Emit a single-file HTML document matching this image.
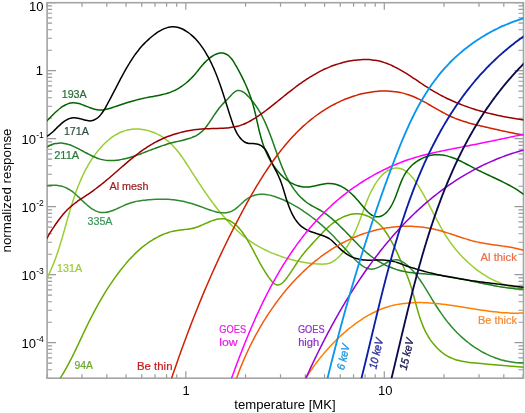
<!DOCTYPE html><html><head><meta charset="utf-8"><style>html,body{margin:0;padding:0;background:#fff;}svg{display:block;will-change:transform;}text{font-family:"Liberation Sans",sans-serif;}</style></head><body>
<svg width="525" height="413" viewBox="0 0 525 413">
<rect width="525" height="413" fill="#fff"/>
<path d="M47.05,378.20v-4.00 M47.05,2.70v4.00 M82.01,378.20v-4.00 M82.01,2.70v4.00 M106.81,378.20v-4.00 M106.81,2.70v4.00 M126.05,378.20v-4.00 M126.05,2.70v4.00 M141.76,378.20v-4.00 M141.76,2.70v4.00 M155.05,378.20v-4.00 M155.05,2.70v4.00 M166.56,378.20v-4.00 M166.56,2.70v4.00 M176.72,378.20v-4.00 M176.72,2.70v4.00 M185.80,378.20v-7.00 M185.80,2.70v7.00 M245.55,378.20v-4.00 M245.55,2.70v4.00 M280.51,378.20v-4.00 M280.51,2.70v4.00 M305.31,378.20v-4.00 M305.31,2.70v4.00 M324.55,378.20v-4.00 M324.55,2.70v4.00 M340.26,378.20v-4.00 M340.26,2.70v4.00 M353.55,378.20v-4.00 M353.55,2.70v4.00 M365.06,378.20v-4.00 M365.06,2.70v4.00 M375.22,378.20v-4.00 M375.22,2.70v4.00 M384.30,378.20v-7.00 M384.30,2.70v7.00 M444.05,378.20v-4.00 M444.05,2.70v4.00 M479.01,378.20v-4.00 M479.01,2.70v4.00 M503.81,378.20v-4.00 M503.81,2.70v4.00 M523.05,378.20v-4.00 M523.05,2.70v4.00 M47.10,378.26h5.00 M523.50,378.26h-5.00 M47.10,369.76h5.00 M523.50,369.76h-5.00 M47.10,363.17h5.00 M523.50,363.17h-5.00 M47.10,357.79h5.00 M523.50,357.79h-5.00 M47.10,353.23h5.00 M523.50,353.23h-5.00 M47.10,349.29h5.00 M523.50,349.29h-5.00 M47.10,345.81h5.00 M523.50,345.81h-5.00 M47.10,342.70h9.00 M523.50,342.70h-9.00 M47.10,322.23h5.00 M523.50,322.23h-5.00 M47.10,310.26h5.00 M523.50,310.26h-5.00 M47.10,301.76h5.00 M523.50,301.76h-5.00 M47.10,295.17h5.00 M523.50,295.17h-5.00 M47.10,289.79h5.00 M523.50,289.79h-5.00 M47.10,285.23h5.00 M523.50,285.23h-5.00 M47.10,281.29h5.00 M523.50,281.29h-5.00 M47.10,277.81h5.00 M523.50,277.81h-5.00 M47.10,274.70h9.00 M523.50,274.70h-9.00 M47.10,254.23h5.00 M523.50,254.23h-5.00 M47.10,242.26h5.00 M523.50,242.26h-5.00 M47.10,233.76h5.00 M523.50,233.76h-5.00 M47.10,227.17h5.00 M523.50,227.17h-5.00 M47.10,221.79h5.00 M523.50,221.79h-5.00 M47.10,217.23h5.00 M523.50,217.23h-5.00 M47.10,213.29h5.00 M523.50,213.29h-5.00 M47.10,209.81h5.00 M523.50,209.81h-5.00 M47.10,206.70h9.00 M523.50,206.70h-9.00 M47.10,186.23h5.00 M523.50,186.23h-5.00 M47.10,174.26h5.00 M523.50,174.26h-5.00 M47.10,165.76h5.00 M523.50,165.76h-5.00 M47.10,159.17h5.00 M523.50,159.17h-5.00 M47.10,153.79h5.00 M523.50,153.79h-5.00 M47.10,149.23h5.00 M523.50,149.23h-5.00 M47.10,145.29h5.00 M523.50,145.29h-5.00 M47.10,141.81h5.00 M523.50,141.81h-5.00 M47.10,138.70h9.00 M523.50,138.70h-9.00 M47.10,118.23h5.00 M523.50,118.23h-5.00 M47.10,106.26h5.00 M523.50,106.26h-5.00 M47.10,97.76h5.00 M523.50,97.76h-5.00 M47.10,91.17h5.00 M523.50,91.17h-5.00 M47.10,85.79h5.00 M523.50,85.79h-5.00 M47.10,81.23h5.00 M523.50,81.23h-5.00 M47.10,77.29h5.00 M523.50,77.29h-5.00 M47.10,73.81h5.00 M523.50,73.81h-5.00 M47.10,70.70h9.00 M523.50,70.70h-9.00 M47.10,50.23h5.00 M523.50,50.23h-5.00 M47.10,38.26h5.00 M523.50,38.26h-5.00 M47.10,29.76h5.00 M523.50,29.76h-5.00 M47.10,23.17h5.00 M523.50,23.17h-5.00 M47.10,17.79h5.00 M523.50,17.79h-5.00 M47.10,13.23h5.00 M523.50,13.23h-5.00 M47.10,9.29h5.00 M523.50,9.29h-5.00 M47.10,5.81h5.00 M523.50,5.81h-5.00 M47.10,2.70h9.00 M523.50,2.70h-9.00" stroke="#9a9a9a" stroke-width="1.2" fill="none"/>
<rect x="47.10" y="2.70" width="476.40" height="375.50" fill="none" stroke="#a4a4a4" stroke-width="1.6"/>
<defs><clipPath id="c"><rect x="47.10" y="2.70" width="476.40" height="375.50"/></clipPath></defs>
<g clip-path="url(#c)" fill="none" stroke-linejoin="round" stroke-linecap="round">
<path d="M46.80,278.59 C47.24,277.71 47.70,276.83 48.14,275.94 C48.57,275.05 49.00,274.16 49.42,273.26 C49.84,272.36 50.25,271.46 50.65,270.55 C51.05,269.65 51.45,268.74 51.83,267.82 C52.22,266.91 52.60,265.99 52.97,265.07 C53.34,264.15 53.71,263.22 54.07,262.30 C54.43,261.37 54.78,260.44 55.12,259.50 C55.47,258.57 55.81,257.63 56.14,256.69 C56.48,255.75 56.81,254.81 57.13,253.86 C57.45,252.91 57.77,251.97 58.09,251.02 C58.40,250.07 58.71,249.11 59.02,248.16 C59.32,247.20 59.63,246.24 59.92,245.29 C60.22,244.33 60.52,243.37 60.81,242.40 C61.10,241.44 61.39,240.48 61.68,239.51 C61.96,238.55 62.25,237.58 62.53,236.61 C62.81,235.64 63.09,234.67 63.37,233.70 C63.65,232.73 63.92,231.76 64.20,230.79 C64.48,229.82 64.75,228.85 65.02,227.88 C65.30,226.90 65.57,225.93 65.85,224.96 C66.12,223.99 66.39,223.01 66.67,222.04 C66.94,221.07 67.22,220.09 67.49,219.12 C67.77,218.15 68.05,217.18 68.33,216.21 C68.61,215.24 68.89,214.26 69.17,213.29 C69.45,212.33 69.73,211.36 70.02,210.39 C70.31,209.42 70.60,208.45 70.89,207.49 C71.18,206.52 71.48,205.56 71.78,204.60 C72.08,203.63 72.38,202.67 72.68,201.71 C72.99,200.75 73.30,199.80 73.62,198.84 C73.93,197.89 74.25,196.93 74.58,195.98 C74.90,195.03 75.23,194.08 75.57,193.14 C75.90,192.19 76.24,191.25 76.59,190.31 C76.94,189.37 77.29,188.43 77.65,187.50 C78.01,186.56 78.38,185.63 78.75,184.70 C79.13,183.77 79.51,182.85 79.89,181.93 C80.28,181.01 80.68,180.09 81.08,179.17 C81.49,178.26 81.90,177.35 82.32,176.44 C82.74,175.54 83.17,174.64 83.61,173.74 C84.05,172.84 84.49,171.95 84.95,171.06 C85.41,170.17 85.87,169.28 86.35,168.40 C86.83,167.52 87.31,166.65 87.81,165.78 C88.31,164.91 88.82,164.05 89.34,163.19 C89.86,162.33 90.39,161.47 90.93,160.62 C91.47,159.77 92.02,158.93 92.59,158.10 C93.15,157.26 93.73,156.42 94.32,155.60 C94.91,154.78 95.51,153.96 96.13,153.15 C96.74,152.34 97.37,151.54 98.01,150.76 C98.65,149.97 99.30,149.19 99.96,148.43 C100.62,147.66 101.30,146.91 101.99,146.17 C102.67,145.44 103.37,144.71 104.09,144.01 C104.80,143.31 105.52,142.62 106.26,141.94 C106.99,141.28 107.74,140.62 108.50,139.99 C109.26,139.36 110.03,138.75 110.81,138.16 C111.59,137.58 112.39,137.01 113.20,136.47 C114.00,135.93 114.82,135.41 115.65,134.91 C116.48,134.42 117.32,133.96 118.18,133.52 C119.03,133.08 119.90,132.67 120.77,132.29 C121.65,131.91 122.54,131.56 123.44,131.24 C124.34,130.93 125.25,130.64 126.18,130.39 C127.10,130.13 128.04,129.91 128.98,129.73 C129.93,129.55 130.89,129.40 131.86,129.29 C132.83,129.18 133.82,129.10 134.80,129.07 C135.80,129.03 136.81,129.04 137.81,129.08 C138.82,129.11 139.84,129.19 140.85,129.30 C141.87,129.41 142.89,129.56 143.90,129.74 C144.92,129.91 145.94,130.13 146.95,130.37 C147.96,130.61 148.96,130.89 149.96,131.19 C150.95,131.50 151.94,131.83 152.91,132.19 C153.88,132.56 154.84,132.95 155.78,133.37 C156.71,133.78 157.64,134.23 158.54,134.70 C159.44,135.17 160.32,135.66 161.18,136.18 C162.04,136.70 162.88,137.24 163.70,137.81 C164.52,138.37 165.32,138.96 166.10,139.56 C166.88,140.17 167.65,140.80 168.40,141.44 C169.14,142.09 169.87,142.75 170.59,143.43 C171.31,144.11 172.01,144.81 172.69,145.52 C173.38,146.24 174.05,146.97 174.72,147.71 C175.38,148.45 176.02,149.21 176.66,149.98 C177.30,150.75 177.93,151.53 178.54,152.32 C179.16,153.11 179.77,153.92 180.37,154.73 C180.97,155.54 181.56,156.36 182.14,157.19 C182.73,158.01 183.30,158.85 183.88,159.69 C184.45,160.53 185.01,161.38 185.58,162.23 C186.14,163.08 186.70,163.94 187.25,164.80 C187.81,165.66 188.36,166.52 188.92,167.38 C189.47,168.24 190.02,169.10 190.57,169.97 C191.12,170.83 191.67,171.69 192.22,172.55 C192.77,173.41 193.32,174.27 193.88,175.13 C194.43,175.99 194.98,176.85 195.54,177.70 C196.09,178.56 196.65,179.41 197.20,180.27 C197.76,181.12 198.31,181.97 198.87,182.82 C199.43,183.67 199.99,184.52 200.55,185.36 C201.11,186.20 201.68,187.05 202.24,187.89 C202.81,188.73 203.37,189.56 203.94,190.40 C204.51,191.23 205.08,192.07 205.65,192.89 C206.23,193.72 206.80,194.55 207.38,195.37 C207.95,196.19 208.53,197.01 209.12,197.83 C209.70,198.64 210.28,199.46 210.87,200.26 C211.46,201.07 212.05,201.88 212.64,202.68 C213.24,203.48 213.83,204.27 214.43,205.07 C215.03,205.86 215.63,206.65 216.24,207.43 C216.85,208.21 217.46,208.99 218.07,209.77 C218.69,210.54 219.30,211.31 219.92,212.07 C220.55,212.84 221.17,213.60 221.80,214.35 C222.43,215.10 223.06,215.85 223.70,216.59 C224.34,217.34 224.98,218.07 225.63,218.80 C226.28,219.53 226.93,220.26 227.58,220.98 C228.24,221.70 228.90,222.41 229.57,223.12 C230.23,223.82 230.90,224.53 231.58,225.22 C232.26,225.91 232.94,226.60 233.63,227.28 C234.32,227.96 235.01,228.63 235.71,229.30 C236.41,229.97 237.12,230.63 237.84,231.28 C238.55,231.93 239.28,232.57 240.01,233.21 C240.74,233.85 241.48,234.48 242.23,235.10 C242.98,235.72 243.73,236.33 244.50,236.94 C245.27,237.54 246.04,238.14 246.83,238.73 C247.62,239.32 248.41,239.90 249.22,240.47 C250.03,241.04 250.84,241.60 251.67,242.15 C252.50,242.71 253.34,243.25 254.19,243.79 C255.05,244.33 255.91,244.85 256.78,245.37 C257.66,245.89 258.55,246.39 259.44,246.89 C260.34,247.39 261.25,247.88 262.17,248.36 C263.09,248.84 264.01,249.31 264.95,249.77 C265.88,250.23 266.83,250.67 267.78,251.11 C268.73,251.55 269.69,251.98 270.65,252.40 C271.62,252.82 272.59,253.23 273.57,253.63 C274.54,254.03 275.53,254.42 276.51,254.79 C277.50,255.17 278.49,255.54 279.48,255.89 C280.48,256.25 281.48,256.60 282.48,256.93 C283.48,257.27 284.48,257.59 285.48,257.90 C286.49,258.22 287.49,258.52 288.50,258.81 C289.51,259.10 290.51,259.38 291.52,259.65 C292.52,259.91 293.53,260.17 294.53,260.42 C295.54,260.66 296.54,260.89 297.54,261.12 C298.54,261.34 299.53,261.55 300.53,261.75 C301.52,261.94 302.51,262.13 303.50,262.30 C304.48,262.48 305.46,262.64 306.44,262.79 C307.41,262.94 308.38,263.08 309.35,263.20 C310.31,263.33 311.27,263.44 312.22,263.54 C313.17,263.64 314.11,263.73 315.04,263.80 C315.97,263.88 316.90,263.94 317.82,263.99 C318.73,264.04 319.63,264.08 320.53,264.10 C321.42,264.12 322.31,264.14 323.19,264.12 C324.05,264.11 324.92,264.09 325.77,264.00 C326.62,263.91 327.46,263.79 328.29,263.58 C329.12,263.37 329.94,263.08 330.73,262.74 C331.54,262.39 332.34,261.95 333.11,261.48 C333.89,261.00 334.66,260.45 335.40,259.88 C336.16,259.30 336.90,258.66 337.62,258.00 C338.35,257.34 339.06,256.64 339.76,255.91 C340.46,255.18 341.14,254.42 341.81,253.64 C342.49,252.86 343.14,252.05 343.78,251.22 C344.43,250.38 345.06,249.53 345.67,248.66 C346.28,247.79 346.88,246.90 347.47,246.00 C348.05,245.09 348.62,244.17 349.17,243.25 C349.72,242.32 350.26,241.38 350.78,240.44 C351.31,239.50 351.81,238.55 352.30,237.60 C352.79,236.66 353.26,235.71 353.72,234.75 C354.18,233.81 354.62,232.86 355.06,231.91 C355.48,230.96 355.90,230.01 356.31,229.06 C356.71,228.12 357.10,227.17 357.49,226.22 C357.87,225.28 358.25,224.33 358.62,223.39 C358.98,222.45 359.34,221.50 359.70,220.56 C360.05,219.62 360.40,218.68 360.74,217.74 C361.08,216.81 361.42,215.87 361.76,214.94 C362.10,214.00 362.43,213.07 362.77,212.14 C363.11,211.21 363.44,210.29 363.78,209.36 C364.11,208.44 364.45,207.51 364.79,206.59 C365.14,205.68 365.48,204.76 365.83,203.84 C366.18,202.93 366.54,202.02 366.90,201.11 C367.26,200.21 367.63,199.30 368.01,198.40 C368.39,197.50 368.78,196.61 369.18,195.71 C369.58,194.82 369.99,193.93 370.41,193.05 C370.84,192.16 371.27,191.28 371.72,190.41 C372.17,189.53 372.64,188.66 373.12,187.79 C373.60,186.92 374.10,186.06 374.61,185.20 C375.13,184.35 375.66,183.49 376.22,182.65 C376.77,181.80 377.35,180.95 377.94,180.13 C378.54,179.30 379.16,178.48 379.81,177.70 C380.45,176.91 381.12,176.14 381.82,175.41 C382.52,174.68 383.25,173.98 384.01,173.33 C384.77,172.68 385.55,172.07 386.38,171.52 C387.20,170.97 388.06,170.46 388.95,170.03 C389.83,169.60 390.77,169.22 391.70,168.93 C392.63,168.64 393.59,168.41 394.53,168.27 C395.45,168.14 396.38,168.09 397.29,168.12 C398.18,168.16 399.06,168.28 399.92,168.48 C400.78,168.67 401.62,168.95 402.43,169.29 C403.25,169.63 404.05,170.05 404.82,170.52 C405.61,170.99 406.37,171.53 407.10,172.10 C407.85,172.69 408.58,173.33 409.28,174.01 C410.00,174.69 410.69,175.42 411.36,176.17 C412.04,176.94 412.70,177.74 413.34,178.56 C414.00,179.39 414.63,180.25 415.24,181.12 C415.87,182.00 416.47,182.90 417.07,183.81 C417.66,184.72 418.24,185.64 418.81,186.57 C419.39,187.49 419.94,188.43 420.50,189.36 C421.05,190.28 421.59,191.21 422.12,192.14 C422.65,193.06 423.17,193.98 423.69,194.90 C424.20,195.82 424.70,196.74 425.21,197.65 C425.70,198.56 426.20,199.47 426.68,200.38 C427.17,201.29 427.65,202.20 428.13,203.10 C428.60,204.00 429.07,204.90 429.54,205.80 C430.01,206.70 430.47,207.59 430.93,208.49 C431.39,209.38 431.85,210.26 432.31,211.15 C432.76,212.04 433.22,212.92 433.67,213.80 C434.12,214.68 434.58,215.55 435.03,216.43 C435.48,217.30 435.94,218.17 436.39,219.04 C436.85,219.91 437.31,220.77 437.77,221.63 C438.23,222.49 438.69,223.35 439.15,224.20 C439.62,225.06 440.09,225.91 440.56,226.76 C441.04,227.60 441.51,228.45 442.00,229.29 C442.48,230.13 442.97,230.97 443.47,231.80 C443.97,232.63 444.47,233.46 444.98,234.29 C445.49,235.12 446.01,235.94 446.54,236.76 C447.06,237.58 447.60,238.39 448.15,239.20 C448.69,240.02 449.25,240.82 449.81,241.63 C450.38,242.43 450.96,243.23 451.55,244.03 C452.14,244.83 452.73,245.62 453.34,246.40 C453.95,247.19 454.57,247.97 455.20,248.75 C455.83,249.52 456.47,250.29 457.12,251.06 C457.77,251.82 458.42,252.58 459.09,253.33 C459.76,254.08 460.44,254.83 461.13,255.57 C461.82,256.30 462.51,257.03 463.22,257.76 C463.92,258.48 464.64,259.20 465.36,259.90 C466.09,260.61 466.82,261.31 467.56,262.00 C468.31,262.69 469.06,263.37 469.81,264.04 C470.57,264.71 471.34,265.37 472.12,266.02 C472.89,266.67 473.68,267.31 474.47,267.95 C475.26,268.58 476.06,269.20 476.87,269.81 C477.68,270.42 478.50,271.01 479.32,271.60 C480.14,272.19 480.97,272.76 481.81,273.32 C482.65,273.89 483.50,274.44 484.35,274.98 C485.20,275.51 486.07,276.04 486.93,276.55 C487.80,277.06 488.67,277.56 489.56,278.04 C490.44,278.53 491.32,279.00 492.22,279.45 C493.11,279.91 494.01,280.35 494.92,280.78 C495.83,281.20 496.74,281.61 497.66,282.01 C498.58,282.40 499.51,282.78 500.44,283.15 C501.37,283.51 502.31,283.86 503.25,284.19 C504.19,284.52 505.14,284.84 506.10,285.13 C507.05,285.43 508.01,285.71 508.97,285.97 C509.94,286.23 510.91,286.48 511.88,286.70 C512.86,286.93 513.84,287.14 514.82,287.32 C515.81,287.51 516.80,287.68 517.79,287.83 C518.78,287.98 519.78,288.11 520.78,288.22 C521.79,288.33 522.80,288.40 523.80,288.49" stroke="#9acd32" stroke-width="1.5"/>
<path d="M60.21,378.21 C60.75,377.35 61.29,376.49 61.82,375.63 C62.35,374.77 62.87,373.90 63.39,373.04 C63.90,372.17 64.41,371.30 64.91,370.43 C65.41,369.56 65.90,368.68 66.39,367.81 C66.88,366.93 67.36,366.05 67.84,365.17 C68.32,364.29 68.79,363.41 69.25,362.53 C69.72,361.65 70.18,360.76 70.64,359.88 C71.09,358.99 71.54,358.10 71.99,357.22 C72.44,356.33 72.88,355.44 73.33,354.55 C73.77,353.66 74.21,352.76 74.64,351.87 C75.08,350.98 75.51,350.08 75.94,349.19 C76.37,348.30 76.80,347.40 77.22,346.50 C77.65,345.61 78.07,344.71 78.50,343.81 C78.92,342.92 79.34,342.02 79.77,341.12 C80.19,340.22 80.61,339.32 81.03,338.43 C81.45,337.53 81.88,336.63 82.30,335.73 C82.72,334.83 83.14,333.93 83.57,333.03 C83.99,332.14 84.42,331.24 84.85,330.34 C85.27,329.44 85.70,328.55 86.13,327.65 C86.57,326.75 87.00,325.85 87.44,324.96 C87.87,324.06 88.31,323.17 88.75,322.27 C89.20,321.38 89.64,320.49 90.09,319.59 C90.54,318.70 90.99,317.81 91.45,316.92 C91.91,316.03 92.36,315.14 92.83,314.25 C93.29,313.36 93.76,312.48 94.23,311.59 C94.70,310.71 95.17,309.82 95.65,308.94 C96.12,308.06 96.60,307.18 97.09,306.30 C97.57,305.42 98.06,304.55 98.55,303.67 C99.05,302.80 99.54,301.92 100.04,301.05 C100.54,300.18 101.05,299.31 101.56,298.45 C102.06,297.58 102.58,296.72 103.09,295.86 C103.61,294.99 104.13,294.14 104.66,293.28 C105.18,292.42 105.71,291.57 106.25,290.72 C106.78,289.87 107.32,289.02 107.87,288.17 C108.41,287.33 108.96,286.49 109.51,285.65 C110.06,284.81 110.62,283.97 111.18,283.14 C111.75,282.31 112.31,281.48 112.89,280.65 C113.46,279.82 114.04,279.00 114.62,278.18 C115.20,277.36 115.79,276.55 116.38,275.73 C116.98,274.92 117.57,274.11 118.18,273.31 C118.78,272.51 119.39,271.71 120.00,270.91 C120.62,270.11 121.24,269.32 121.86,268.53 C122.49,267.75 123.12,266.96 123.75,266.18 C124.39,265.41 125.03,264.63 125.68,263.87 C126.33,263.10 126.99,262.34 127.65,261.58 C128.31,260.83 128.98,260.08 129.66,259.34 C130.33,258.60 131.01,257.87 131.70,257.14 C132.39,256.41 133.09,255.70 133.80,254.99 C134.50,254.28 135.21,253.58 135.93,252.89 C136.65,252.20 137.38,251.52 138.12,250.85 C138.86,250.18 139.60,249.51 140.36,248.86 C141.11,248.21 141.87,247.58 142.65,246.95 C143.42,246.32 144.20,245.70 144.99,245.10 C145.78,244.50 146.58,243.91 147.39,243.33 C148.20,242.75 149.02,242.18 149.84,241.63 C150.67,241.08 151.51,240.54 152.36,240.02 C153.21,239.49 154.07,238.99 154.94,238.49 C155.81,238.00 156.69,237.52 157.58,237.06 C158.48,236.60 159.38,236.15 160.29,235.72 C161.19,235.30 162.11,234.89 163.04,234.50 C163.96,234.11 164.90,233.75 165.84,233.40 C166.78,233.06 167.73,232.74 168.68,232.44 C169.63,232.14 170.59,231.86 171.55,231.62 C172.52,231.37 173.49,231.15 174.46,230.95 C175.43,230.76 176.40,230.59 177.38,230.44 C178.36,230.29 179.34,230.17 180.32,230.05 C181.30,229.93 182.29,229.83 183.27,229.72 C184.26,229.60 185.24,229.50 186.23,229.37 C187.21,229.24 188.20,229.12 189.18,228.96 C190.16,228.80 191.15,228.62 192.12,228.41 C193.10,228.19 194.08,227.95 195.05,227.67 C196.03,227.38 197.00,227.05 197.96,226.69 C198.93,226.34 199.89,225.95 200.85,225.55 C201.82,225.15 202.78,224.72 203.74,224.30 C204.70,223.88 205.65,223.44 206.61,223.02 C207.57,222.60 208.52,222.18 209.48,221.78 C210.43,221.39 211.39,221.01 212.35,220.66 C213.30,220.32 214.26,220.00 215.23,219.73 C216.18,219.47 217.14,219.23 218.10,219.06 C219.05,218.90 220.01,218.77 220.96,218.74 C221.90,218.71 222.84,218.74 223.76,218.86 C224.69,218.98 225.60,219.20 226.49,219.47 C227.38,219.75 228.26,220.10 229.11,220.50 C229.96,220.89 230.79,221.35 231.59,221.84 C232.40,222.33 233.19,222.87 233.95,223.45 C234.72,224.03 235.46,224.65 236.18,225.30 C236.91,225.96 237.61,226.65 238.30,227.37 C238.99,228.09 239.66,228.85 240.31,229.62 C240.96,230.40 241.60,231.20 242.21,232.02 C242.84,232.85 243.44,233.69 244.03,234.55 C244.62,235.41 245.19,236.28 245.75,237.17 C246.32,238.05 246.87,238.95 247.40,239.85 C247.94,240.75 248.46,241.66 248.98,242.57 C249.49,243.48 250.00,244.39 250.49,245.30 C250.98,246.20 251.47,247.10 251.95,248.00 C252.42,248.89 252.89,249.77 253.36,250.66 C253.82,251.53 254.27,252.41 254.73,253.28 C255.18,254.14 255.64,255.00 256.09,255.87 C256.54,256.73 256.99,257.58 257.45,258.44 C257.90,259.29 258.36,260.15 258.82,261.00 C259.28,261.85 259.75,262.71 260.22,263.56 C260.70,264.42 261.18,265.27 261.67,266.13 C262.17,266.99 262.67,267.86 263.19,268.72 C263.70,269.59 264.23,270.46 264.78,271.33 C265.32,272.22 265.89,273.10 266.46,273.99 C267.04,274.89 267.64,275.79 268.25,276.68 C268.87,277.57 269.50,278.47 270.16,279.31 C270.80,280.14 271.46,280.95 272.15,281.68 C272.82,282.36 273.50,283.03 274.23,283.55 C274.91,284.04 275.63,284.49 276.37,284.73 C277.07,284.96 277.83,285.08 278.55,285.00 C279.28,284.91 280.03,284.59 280.73,284.21 C281.49,283.80 282.20,283.18 282.90,282.55 C283.63,281.88 284.33,281.08 285.01,280.28 C285.71,279.46 286.38,278.56 287.04,277.68 C287.69,276.79 288.33,275.88 288.96,274.99 C289.58,274.10 290.18,273.21 290.77,272.31 C291.36,271.43 291.94,270.55 292.51,269.67 C293.08,268.80 293.64,267.93 294.20,267.06 C294.76,266.20 295.31,265.34 295.86,264.49 C296.41,263.64 296.96,262.80 297.52,261.97 C298.08,261.14 298.63,260.31 299.20,259.50 C299.77,258.69 300.35,257.89 300.93,257.10 C301.52,256.31 302.12,255.53 302.72,254.76 C303.33,253.98 303.94,253.22 304.56,252.47 C305.18,251.71 305.81,250.96 306.45,250.22 C307.08,249.47 307.73,248.74 308.37,248.00 C309.02,247.27 309.68,246.54 310.33,245.81 C310.99,245.08 311.65,244.35 312.32,243.63 C312.98,242.90 313.65,242.17 314.32,241.45 C314.99,240.72 315.66,239.99 316.34,239.26 C317.01,238.53 317.69,237.79 318.36,237.06 C319.04,236.33 319.73,235.59 320.41,234.87 C321.10,234.14 321.79,233.41 322.49,232.69 C323.19,231.97 323.90,231.25 324.61,230.54 C325.33,229.84 326.05,229.14 326.78,228.45 C327.52,227.76 328.26,227.08 329.02,226.42 C329.77,225.76 330.54,225.11 331.32,224.47 C332.11,223.84 332.90,223.22 333.71,222.62 C334.52,222.02 335.35,221.44 336.19,220.88 C337.04,220.32 337.90,219.78 338.78,219.27 C339.66,218.76 340.56,218.27 341.48,217.81 C342.39,217.35 343.32,216.92 344.26,216.52 C345.20,216.12 346.16,215.76 347.12,215.44 C348.08,215.12 349.06,214.83 350.04,214.59 C351.01,214.35 351.99,214.16 352.98,214.01 C353.96,213.87 354.95,213.77 355.94,213.73 C356.92,213.69 357.90,213.71 358.88,213.78 C359.86,213.86 360.83,213.99 361.80,214.18 C362.76,214.37 363.72,214.62 364.66,214.92 C365.61,215.21 366.54,215.56 367.46,215.95 C368.37,216.34 369.28,216.78 370.16,217.25 C371.04,217.73 371.91,218.24 372.75,218.79 C373.59,219.34 374.41,219.92 375.21,220.53 C376.00,221.14 376.78,221.79 377.52,222.45 C378.27,223.12 378.99,223.81 379.69,224.52 C380.39,225.24 381.07,225.97 381.73,226.73 C382.39,227.48 383.02,228.26 383.64,229.05 C384.26,229.84 384.86,230.65 385.44,231.47 C386.03,232.30 386.59,233.13 387.14,233.98 C387.69,234.82 388.23,235.68 388.75,236.54 C389.27,237.40 389.78,238.28 390.27,239.15 C390.77,240.02 391.25,240.91 391.72,241.79 C392.20,242.67 392.66,243.55 393.11,244.43 C393.57,245.32 394.01,246.20 394.45,247.09 C394.89,247.97 395.32,248.86 395.75,249.75 C396.17,250.64 396.59,251.54 397.01,252.43 C397.42,253.32 397.83,254.22 398.24,255.12 C398.65,256.01 399.06,256.91 399.47,257.82 C399.87,258.72 400.28,259.62 400.68,260.53 C401.09,261.43 401.50,262.34 401.90,263.25 C402.30,264.16 402.71,265.08 403.11,265.99 C403.51,266.91 403.91,267.83 404.30,268.75 C404.69,269.67 405.08,270.59 405.47,271.52 C405.85,272.45 406.23,273.38 406.61,274.31 C406.98,275.24 407.35,276.18 407.71,277.11 C408.07,278.05 408.42,278.99 408.77,279.94 C409.11,280.88 409.45,281.83 409.78,282.78 C410.10,283.73 410.42,284.69 410.73,285.65 C411.03,286.60 411.33,287.57 411.62,288.53 C411.91,289.49 412.20,290.46 412.48,291.42 C412.75,292.39 413.03,293.36 413.29,294.33 C413.56,295.30 413.83,296.27 414.09,297.24 C414.35,298.21 414.61,299.18 414.87,300.15 C415.13,301.12 415.39,302.10 415.65,303.07 C415.91,304.04 416.17,305.01 416.43,305.97 C416.70,306.94 416.96,307.91 417.23,308.87 C417.50,309.84 417.78,310.80 418.06,311.76 C418.34,312.72 418.62,313.68 418.92,314.63 C419.21,315.58 419.51,316.53 419.83,317.48 C420.14,318.42 420.46,319.37 420.79,320.30 C421.12,321.24 421.46,322.18 421.82,323.10 C422.17,324.03 422.54,324.95 422.92,325.87 C423.30,326.79 423.69,327.70 424.11,328.60 C424.52,329.50 424.94,330.40 425.39,331.29 C425.83,332.18 426.29,333.07 426.78,333.94 C427.26,334.82 427.76,335.69 428.28,336.54 C428.80,337.40 429.34,338.26 429.91,339.09 C430.47,339.94 431.06,340.77 431.66,341.58 C432.27,342.40 432.89,343.21 433.54,344.00 C434.18,344.79 434.85,345.56 435.53,346.32 C436.21,347.07 436.91,347.81 437.63,348.52 C438.35,349.23 439.09,349.93 439.84,350.60 C440.59,351.26 441.36,351.91 442.15,352.52 C442.93,353.13 443.74,353.72 444.55,354.28 C445.37,354.84 446.20,355.37 447.04,355.86 C447.88,356.35 448.74,356.81 449.61,357.24 C450.48,357.66 451.37,358.05 452.26,358.42 C453.16,358.78 454.06,359.11 454.98,359.42 C455.90,359.72 456.83,360.00 457.76,360.26 C458.70,360.51 459.65,360.74 460.61,360.95 C461.56,361.17 462.53,361.36 463.50,361.53 C464.48,361.71 465.46,361.87 466.44,362.01 C467.43,362.16 468.43,362.29 469.43,362.41 C470.43,362.54 471.44,362.65 472.45,362.76 C473.46,362.86 474.48,362.96 475.50,363.06 C476.53,363.15 477.55,363.25 478.58,363.34 C479.61,363.43 480.64,363.53 481.67,363.62 C482.71,363.72 483.75,363.81 484.78,363.91 C485.82,364.00 486.86,364.10 487.90,364.19 C488.94,364.29 489.98,364.39 491.02,364.48 C492.05,364.58 493.09,364.67 494.13,364.77 C495.17,364.86 496.20,364.96 497.23,365.05 C498.26,365.14 499.29,365.24 500.32,365.33 C501.35,365.42 502.37,365.51 503.39,365.60 C504.41,365.69 505.42,365.78 506.43,365.87 C507.44,365.95 508.44,366.04 509.44,366.12 C510.43,366.20 511.42,366.29 512.41,366.36 C513.39,366.44 514.36,366.52 515.33,366.60 C516.29,366.67 517.25,366.74 518.21,366.81 C519.15,366.88 520.09,366.95 521.03,367.02 C521.95,367.08 522.87,367.14 523.78,367.20" stroke="#66aa00" stroke-width="1.5"/>
<path d="M46.80,185.70 C47.93,185.57 49.08,185.39 50.19,185.30 C51.27,185.21 52.33,185.16 53.38,185.15 C54.40,185.15 55.40,185.19 56.39,185.27 C57.35,185.35 58.30,185.48 59.23,185.64 C60.15,185.81 61.05,186.02 61.93,186.27 C62.81,186.51 63.67,186.81 64.52,187.14 C65.36,187.47 66.19,187.84 67.00,188.25 C67.82,188.66 68.63,189.11 69.42,189.59 C70.22,190.08 71.00,190.61 71.77,191.17 C72.56,191.73 73.33,192.34 74.09,192.97 C74.87,193.61 75.64,194.29 76.40,194.97 C77.18,195.67 77.94,196.39 78.70,197.12 C79.48,197.85 80.24,198.60 81.01,199.35 C81.79,200.09 82.56,200.85 83.34,201.59 C84.12,202.33 84.90,203.07 85.69,203.79 C86.48,204.50 87.27,205.20 88.08,205.87 C88.88,206.54 89.69,207.19 90.52,207.79 C91.34,208.38 92.17,208.96 93.02,209.47 C93.85,209.98 94.71,210.45 95.58,210.85 C96.44,211.25 97.31,211.60 98.20,211.87 C99.07,212.14 99.97,212.35 100.86,212.47 C101.75,212.59 102.66,212.63 103.55,212.60 C104.46,212.58 105.37,212.47 106.28,212.33 C107.20,212.18 108.12,211.96 109.03,211.71 C109.96,211.45 110.88,211.14 111.81,210.81 C112.75,210.48 113.68,210.10 114.61,209.71 C115.55,209.32 116.50,208.89 117.44,208.47 C118.39,208.04 119.33,207.59 120.29,207.15 C121.24,206.71 122.20,206.26 123.16,205.83 C124.12,205.40 125.08,204.96 126.05,204.56 C127.01,204.17 127.98,203.78 128.95,203.43 C129.92,203.09 130.90,202.77 131.88,202.49 C132.85,202.20 133.83,201.96 134.82,201.73 C135.80,201.50 136.78,201.31 137.77,201.12 C138.75,200.94 139.74,200.79 140.73,200.64 C141.72,200.50 142.72,200.38 143.71,200.26 C144.71,200.14 145.70,200.03 146.70,199.93 C147.70,199.84 148.69,199.75 149.69,199.67 C150.69,199.58 151.69,199.51 152.69,199.45 C153.70,199.39 154.70,199.34 155.70,199.30 C156.70,199.26 157.71,199.23 158.71,199.21 C159.72,199.20 160.72,199.19 161.73,199.19 C162.73,199.20 163.74,199.22 164.74,199.25 C165.75,199.28 166.75,199.32 167.76,199.37 C168.76,199.43 169.77,199.50 170.77,199.58 C171.78,199.66 172.78,199.76 173.78,199.87 C174.79,199.98 175.79,200.10 176.79,200.24 C177.79,200.38 178.79,200.53 179.79,200.70 C180.79,200.87 181.79,201.06 182.78,201.26 C183.78,201.46 184.78,201.68 185.77,201.91 C186.76,202.15 187.76,202.40 188.75,202.66 C189.74,202.93 190.73,203.22 191.71,203.52 C192.70,203.82 193.68,204.14 194.66,204.47 C195.64,204.80 196.62,205.15 197.60,205.50 C198.58,205.84 199.55,206.20 200.52,206.56 C201.49,206.92 202.46,207.28 203.43,207.64 C204.39,207.99 205.35,208.35 206.32,208.70 C207.27,209.04 208.23,209.38 209.18,209.71 C210.13,210.03 211.08,210.35 212.03,210.64 C212.97,210.94 213.91,211.22 214.85,211.48 C215.79,211.73 216.72,211.97 217.66,212.16 C218.58,212.36 219.51,212.53 220.44,212.65 C221.35,212.77 222.28,212.85 223.19,212.87 C224.11,212.89 225.03,212.87 225.94,212.77 C226.85,212.67 227.76,212.51 228.66,212.28 C229.57,212.04 230.48,211.72 231.37,211.33 C232.28,210.93 233.18,210.44 234.06,209.88 C234.98,209.29 235.87,208.59 236.74,207.88 C237.65,207.15 238.53,206.33 239.42,205.53 C240.31,204.72 241.19,203.86 242.08,203.05 C242.96,202.24 243.83,201.43 244.73,200.69 C245.60,199.97 246.48,199.28 247.38,198.67 C248.25,198.07 249.13,197.54 250.03,197.06 C250.89,196.59 251.78,196.18 252.67,195.83 C253.54,195.49 254.42,195.20 255.31,194.96 C256.18,194.73 257.06,194.54 257.95,194.41 C258.83,194.28 259.71,194.20 260.59,194.16 C261.47,194.12 262.36,194.13 263.24,194.17 C264.12,194.21 265.01,194.30 265.89,194.42 C266.78,194.53 267.66,194.69 268.55,194.87 C269.44,195.05 270.32,195.27 271.21,195.50 C272.11,195.74 273.00,196.00 273.89,196.28 C274.78,196.56 275.68,196.86 276.57,197.18 C277.47,197.50 278.37,197.83 279.27,198.18 C280.17,198.53 281.07,198.90 281.97,199.28 C282.88,199.67 283.78,200.07 284.68,200.48 C285.58,200.89 286.49,201.32 287.38,201.76 C288.29,202.21 289.19,202.66 290.08,203.13 C290.99,203.60 291.88,204.09 292.78,204.58 C293.67,205.08 294.57,205.58 295.46,206.10 C296.35,206.62 297.24,207.15 298.12,207.69 C299.01,208.24 299.89,208.79 300.77,209.35 C301.65,209.91 302.52,210.48 303.39,211.07 C304.26,211.65 305.13,212.24 305.99,212.84 C306.85,213.43 307.70,214.04 308.55,214.66 C309.40,215.27 310.25,215.89 311.09,216.52 C311.93,217.15 312.76,217.79 313.58,218.43 C314.41,219.07 315.23,219.71 316.04,220.37 C316.85,221.02 317.65,221.68 318.45,222.34 C319.25,223.00 320.03,223.67 320.81,224.34 C321.59,225.00 322.36,225.68 323.13,226.35 C323.89,227.03 324.64,227.70 325.38,228.39 C326.12,229.06 326.86,229.75 327.58,230.43 C328.30,231.11 329.01,231.79 329.71,232.48 C330.41,233.16 331.10,233.84 331.78,234.53 C332.46,235.21 333.13,235.90 333.80,236.59 C334.46,237.27 335.12,237.96 335.77,238.65 C336.42,239.34 337.07,240.03 337.71,240.73 C338.36,241.42 339.00,242.12 339.64,242.82 C340.29,243.53 340.93,244.23 341.57,244.94 C342.22,245.65 342.87,246.37 343.52,247.09 C344.17,247.81 344.83,248.54 345.49,249.27 C346.15,250.00 346.82,250.74 347.50,251.48 C348.19,252.23 348.87,252.99 349.57,253.74 C350.28,254.51 350.99,255.28 351.71,256.05 C352.44,256.83 353.18,257.62 353.93,258.39 C354.69,259.17 355.45,259.96 356.24,260.71 C357.01,261.46 357.80,262.20 358.62,262.91 C359.42,263.60 360.23,264.28 361.07,264.90 C361.89,265.51 362.73,266.10 363.59,266.61 C364.43,267.11 365.29,267.57 366.17,267.94 C367.03,268.30 367.92,268.61 368.81,268.81 C369.70,269.01 370.61,269.13 371.51,269.14 C372.42,269.14 373.35,269.03 374.26,268.84 C375.20,268.63 376.13,268.29 377.05,267.92 C378.00,267.53 378.94,267.05 379.87,266.56 C380.83,266.06 381.77,265.50 382.72,264.96 C383.67,264.41 384.61,263.83 385.57,263.29 C386.51,262.77 387.45,262.23 388.41,261.77 C389.34,261.32 390.28,260.88 391.24,260.57 C392.16,260.26 393.09,260.00 394.03,259.88 C394.94,259.77 395.87,259.76 396.78,259.86 C397.69,259.96 398.59,260.18 399.47,260.46 C400.37,260.75 401.24,261.15 402.10,261.59 C402.97,262.04 403.81,262.58 404.64,263.15 C405.48,263.74 406.29,264.38 407.09,265.05 C407.89,265.73 408.67,266.46 409.43,267.19 C410.19,267.93 410.93,268.70 411.65,269.48 C412.37,270.24 413.06,271.03 413.74,271.82 C414.42,272.60 415.07,273.39 415.72,274.19 C416.35,274.99 416.97,275.79 417.58,276.60 C418.18,277.40 418.77,278.21 419.35,279.03 C419.93,279.84 420.49,280.65 421.04,281.48 C421.60,282.30 422.14,283.12 422.67,283.95 C423.21,284.77 423.73,285.60 424.25,286.43 C424.77,287.26 425.28,288.10 425.79,288.93 C426.30,289.77 426.80,290.60 427.31,291.44 C427.82,292.28 428.32,293.12 428.82,293.96 C429.33,294.79 429.83,295.63 430.34,296.47 C430.85,297.31 431.36,298.15 431.87,298.99 C432.39,299.83 432.91,300.67 433.43,301.51 C433.95,302.34 434.47,303.18 435.00,304.01 C435.53,304.85 436.07,305.68 436.60,306.51 C437.14,307.34 437.69,308.17 438.23,309.00 C438.78,309.82 439.34,310.65 439.90,311.47 C440.46,312.29 441.02,313.10 441.59,313.91 C442.17,314.73 442.74,315.54 443.33,316.34 C443.91,317.15 444.51,317.95 445.10,318.74 C445.70,319.54 446.31,320.33 446.93,321.11 C447.54,321.90 448.16,322.68 448.79,323.45 C449.43,324.23 450.06,325.00 450.71,325.76 C451.36,326.52 452.02,327.28 452.69,328.03 C453.35,328.77 454.03,329.52 454.72,330.25 C455.40,330.98 456.10,331.71 456.81,332.43 C457.51,333.15 458.23,333.86 458.96,334.56 C459.68,335.26 460.42,335.95 461.17,336.64 C461.91,337.32 462.67,338.00 463.43,338.66 C464.19,339.33 464.97,339.98 465.75,340.63 C466.53,341.27 467.32,341.91 468.12,342.53 C468.92,343.16 469.73,343.77 470.54,344.38 C471.36,344.98 472.18,345.57 473.01,346.15 C473.84,346.73 474.68,347.30 475.53,347.85 C476.38,348.41 477.23,348.95 478.09,349.48 C478.95,350.01 479.82,350.53 480.70,351.03 C481.58,351.54 482.46,352.03 483.35,352.51 C484.24,352.98 485.13,353.44 486.04,353.89 C486.94,354.34 487.85,354.78 488.76,355.19 C489.68,355.61 490.60,356.02 491.53,356.41 C492.45,356.79 493.39,357.17 494.32,357.52 C495.26,357.88 496.21,358.22 497.15,358.55 C498.10,358.87 499.06,359.18 500.01,359.47 C500.97,359.76 501.94,360.03 502.91,360.29 C503.87,360.54 504.85,360.78 505.82,361.00 C506.80,361.22 507.78,361.42 508.77,361.60 C509.75,361.79 510.74,361.95 511.73,362.10 C512.73,362.24 513.72,362.37 514.72,362.47 C515.72,362.58 516.73,362.66 517.73,362.73 C518.74,362.79 519.75,362.84 520.76,362.86 C521.77,362.89 522.79,362.87 523.80,362.87" stroke="#2e8b2e" stroke-width="1.5"/>
<path d="M46.79,147.20 C47.79,146.64 48.78,146.00 49.78,145.51 C50.76,145.04 51.74,144.63 52.73,144.29 C53.69,143.97 54.66,143.71 55.63,143.52 C56.58,143.33 57.54,143.20 58.49,143.14 C59.43,143.07 60.38,143.07 61.31,143.12 C62.25,143.16 63.18,143.27 64.11,143.42 C65.04,143.57 65.96,143.77 66.88,144.00 C67.80,144.24 68.71,144.52 69.62,144.83 C70.53,145.14 71.44,145.49 72.34,145.86 C73.25,146.23 74.15,146.64 75.05,147.06 C75.95,147.48 76.85,147.92 77.74,148.38 C78.64,148.84 79.54,149.31 80.43,149.79 C81.33,150.27 82.22,150.76 83.11,151.25 C84.01,151.74 84.90,152.24 85.80,152.72 C86.69,153.21 87.58,153.70 88.48,154.17 C89.38,154.64 90.27,155.10 91.17,155.54 C92.07,155.98 92.97,156.41 93.88,156.81 C94.78,157.21 95.68,157.59 96.60,157.94 C97.50,158.28 98.41,158.60 99.33,158.88 C100.25,159.16 101.17,159.40 102.09,159.61 C103.01,159.81 103.94,159.98 104.88,160.12 C105.81,160.25 106.74,160.35 107.68,160.42 C108.62,160.49 109.56,160.53 110.50,160.54 C111.45,160.55 112.39,160.53 113.34,160.48 C114.29,160.44 115.25,160.36 116.20,160.26 C117.16,160.16 118.12,160.04 119.07,159.89 C120.04,159.74 121.00,159.57 121.96,159.38 C122.93,159.19 123.90,158.98 124.87,158.75 C125.84,158.53 126.81,158.28 127.78,158.02 C128.76,157.75 129.73,157.47 130.71,157.18 C131.68,156.89 132.66,156.58 133.64,156.26 C134.62,155.94 135.60,155.61 136.58,155.27 C137.57,154.93 138.55,154.58 139.54,154.23 C140.52,153.87 141.51,153.50 142.49,153.14 C143.48,152.77 144.47,152.39 145.46,152.02 C146.44,151.64 147.43,151.26 148.42,150.88 C149.41,150.50 150.40,150.12 151.39,149.74 C152.38,149.36 153.37,148.98 154.36,148.61 C155.35,148.24 156.34,147.86 157.33,147.50 C158.32,147.14 159.31,146.78 160.30,146.43 C161.28,146.08 162.27,145.74 163.26,145.41 C164.25,145.08 165.24,144.75 166.22,144.44 C167.21,144.14 168.19,143.84 169.18,143.56 C170.16,143.28 171.15,143.02 172.13,142.76 C173.11,142.51 174.09,142.28 175.07,142.04 C176.04,141.81 177.01,141.59 177.98,141.37 C178.94,141.15 179.90,140.94 180.85,140.72 C181.80,140.49 182.75,140.28 183.68,140.04 C184.61,139.81 185.53,139.57 186.45,139.32 C187.35,139.06 188.25,138.80 189.14,138.51 C190.02,138.23 190.89,137.93 191.74,137.60 C192.59,137.27 193.43,136.92 194.26,136.53 C195.08,136.15 195.88,135.74 196.67,135.29 C197.46,134.84 198.23,134.36 198.98,133.84 C199.74,133.31 200.48,132.75 201.19,132.14 C201.92,131.53 202.62,130.87 203.29,130.17 C203.99,129.47 204.65,128.71 205.30,127.94 C205.96,127.15 206.59,126.33 207.22,125.49 C207.85,124.64 208.47,123.77 209.08,122.89 C209.70,122.00 210.30,121.09 210.90,120.18 C211.50,119.27 212.10,118.34 212.70,117.42 C213.30,116.51 213.89,115.58 214.50,114.68 C215.10,113.77 215.70,112.87 216.32,111.99 C216.92,111.12 217.54,110.26 218.17,109.43 C218.80,108.61 219.43,107.81 220.09,107.03 C220.73,106.26 221.39,105.52 222.07,104.79 C222.73,104.05 223.42,103.34 224.11,102.63 C224.80,101.91 225.50,101.21 226.20,100.49 C226.92,99.76 227.64,99.04 228.36,98.29 C229.09,97.54 229.83,96.76 230.57,95.98 C231.32,95.18 232.05,94.30 232.82,93.55 C233.57,92.83 234.31,92.06 235.13,91.56 C235.87,91.10 236.67,90.75 237.47,90.60 C238.24,90.45 239.05,90.49 239.82,90.63 C240.62,90.77 241.41,91.10 242.17,91.47 C242.97,91.86 243.74,92.39 244.48,92.95 C245.26,93.53 246.00,94.20 246.73,94.88 C247.48,95.58 248.19,96.33 248.90,97.09 C249.60,97.84 250.28,98.62 250.95,99.40 C251.61,100.18 252.25,100.97 252.88,101.77 C253.51,102.57 254.12,103.37 254.71,104.19 C255.31,105.00 255.88,105.83 256.44,106.66 C257.00,107.49 257.55,108.33 258.08,109.18 C258.61,110.03 259.13,110.88 259.63,111.74 C260.13,112.60 260.62,113.47 261.10,114.35 C261.57,115.22 262.04,116.10 262.49,116.99 C262.95,117.87 263.39,118.77 263.82,119.66 C264.25,120.56 264.67,121.46 265.09,122.37 C265.50,123.28 265.90,124.19 266.30,125.10 C266.69,126.02 267.08,126.94 267.46,127.86 C267.85,128.79 268.22,129.72 268.59,130.65 C268.96,131.58 269.32,132.51 269.68,133.45 C270.04,134.38 270.39,135.32 270.74,136.27 C271.09,137.21 271.44,138.15 271.78,139.10 C272.13,140.04 272.47,140.99 272.81,141.94 C273.15,142.89 273.49,143.84 273.83,144.79 C274.17,145.74 274.51,146.69 274.84,147.64 C275.18,148.59 275.52,149.54 275.86,150.49 C276.20,151.44 276.54,152.39 276.88,153.34 C277.22,154.29 277.57,155.24 277.91,156.19 C278.26,157.14 278.61,158.08 278.96,159.03 C279.32,159.97 279.67,160.91 280.04,161.85 C280.40,162.79 280.77,163.73 281.14,164.66 C281.51,165.60 281.89,166.53 282.27,167.46 C282.66,168.39 283.05,169.31 283.45,170.23 C283.85,171.15 284.25,172.07 284.67,172.99 C285.09,173.90 285.52,174.81 285.96,175.71 C286.40,176.61 286.85,177.51 287.32,178.40 C287.78,179.30 288.26,180.19 288.76,181.07 C289.25,181.95 289.76,182.83 290.29,183.69 C290.82,184.56 291.37,185.43 291.94,186.28 C292.50,187.14 293.09,187.99 293.69,188.82 C294.29,189.66 294.90,190.48 295.54,191.29 C296.17,192.10 296.82,192.90 297.49,193.68 C298.15,194.46 298.83,195.22 299.53,195.96 C300.22,196.70 300.93,197.43 301.66,198.13 C302.38,198.82 303.12,199.50 303.87,200.15 C304.61,200.80 305.37,201.43 306.15,202.02 C306.92,202.61 307.70,203.18 308.50,203.72 C309.29,204.25 310.10,204.75 310.91,205.23 C311.72,205.71 312.55,206.16 313.37,206.61 C314.20,207.05 315.03,207.48 315.86,207.92 C316.69,208.37 317.53,208.80 318.36,209.26 C319.19,209.72 320.02,210.18 320.85,210.68 C321.68,211.17 322.50,211.69 323.32,212.23 C324.14,212.77 324.95,213.34 325.76,213.91 C326.58,214.50 327.38,215.10 328.18,215.71 C328.99,216.33 329.78,216.97 330.58,217.61 C331.37,218.26 332.16,218.92 332.94,219.60 C333.72,220.27 334.50,220.96 335.27,221.65 C336.04,222.35 336.81,223.05 337.57,223.76 C338.33,224.48 339.08,225.20 339.83,225.92 C340.58,226.64 341.32,227.38 342.05,228.11 C342.79,228.84 343.52,229.57 344.24,230.31 C344.96,231.04 345.68,231.78 346.39,232.51 C347.09,233.24 347.80,233.98 348.50,234.71 C349.20,235.44 349.89,236.17 350.59,236.89 C351.28,237.62 351.97,238.34 352.66,239.07 C353.35,239.78 354.04,240.50 354.73,241.21 C355.41,241.92 356.10,242.63 356.80,243.34 C357.49,244.04 358.18,244.74 358.88,245.43 C359.57,246.12 360.27,246.80 360.98,247.48 C361.68,248.16 362.39,248.83 363.11,249.49 C363.83,250.15 364.55,250.81 365.28,251.46 C366.01,252.10 366.75,252.74 367.50,253.37 C368.25,253.99 369.00,254.61 369.77,255.22 C370.54,255.83 371.32,256.42 372.11,257.01 C372.91,257.59 373.71,258.17 374.53,258.73 C375.35,259.29 376.18,259.84 377.02,260.38 C377.87,260.91 378.72,261.44 379.59,261.94 C380.45,262.45 381.33,262.95 382.22,263.43 C383.10,263.91 384.00,264.37 384.90,264.82 C385.81,265.27 386.72,265.70 387.65,266.12 C388.57,266.54 389.50,266.94 390.44,267.32 C391.37,267.70 392.32,268.07 393.27,268.41 C394.21,268.76 395.17,269.09 396.13,269.39 C397.09,269.70 398.06,269.99 399.03,270.26 C400.00,270.53 400.97,270.78 401.95,271.01 C402.92,271.24 403.90,271.44 404.89,271.63 C405.87,271.82 406.85,272.00 407.84,272.15 C408.83,272.31 409.82,272.45 410.81,272.58 C411.80,272.71 412.80,272.83 413.79,272.94 C414.79,273.05 415.79,273.14 416.78,273.23 C417.78,273.33 418.78,273.41 419.78,273.49 C420.78,273.57 421.78,273.64 422.78,273.71 C423.78,273.78 424.79,273.85 425.79,273.92 C426.79,274.00 427.79,274.07 428.79,274.14 C429.79,274.22 430.79,274.29 431.79,274.38 C432.79,274.46 433.79,274.55 434.79,274.64 C435.79,274.74 436.78,274.85 437.78,274.96 C438.78,275.08 439.77,275.20 440.76,275.33 C441.76,275.46 442.75,275.59 443.74,275.74 C444.73,275.88 445.72,276.03 446.71,276.19 C447.70,276.34 448.69,276.50 449.68,276.67 C450.67,276.84 451.65,277.01 452.64,277.19 C453.63,277.37 454.61,277.55 455.60,277.74 C456.58,277.92 457.57,278.11 458.55,278.31 C459.54,278.50 460.52,278.70 461.50,278.90 C462.49,279.10 463.47,279.30 464.45,279.51 C465.43,279.71 466.42,279.92 467.40,280.13 C468.38,280.34 469.36,280.55 470.35,280.76 C471.33,280.97 472.31,281.18 473.29,281.40 C474.27,281.61 475.25,281.82 476.24,282.03 C477.22,282.24 478.20,282.46 479.18,282.67 C480.16,282.88 481.15,283.09 482.13,283.29 C483.11,283.50 484.09,283.71 485.08,283.91 C486.06,284.11 487.04,284.32 488.03,284.51 C489.01,284.71 489.99,284.91 490.98,285.10 C491.96,285.29 492.95,285.48 493.94,285.66 C494.92,285.84 495.91,286.02 496.90,286.20 C497.88,286.37 498.87,286.54 499.86,286.70 C500.85,286.86 501.84,287.02 502.83,287.17 C503.82,287.32 504.81,287.47 505.80,287.61 C506.80,287.74 507.79,287.88 508.78,288.00 C509.78,288.12 510.78,288.24 511.77,288.35 C512.77,288.45 513.77,288.55 514.77,288.64 C515.77,288.73 516.77,288.82 517.77,288.89 C518.77,288.96 519.78,289.02 520.78,289.07 C521.79,289.13 522.79,289.16 523.80,289.20" stroke="#1e7b1e" stroke-width="1.5"/>
<path d="M46.79,121.01 C47.48,120.31 48.15,119.63 48.84,118.92 C49.55,118.20 50.26,117.47 50.98,116.74 C51.70,116.00 52.44,115.25 53.19,114.52 C53.94,113.78 54.70,113.04 55.47,112.32 C56.24,111.60 57.02,110.89 57.82,110.21 C58.62,109.53 59.42,108.87 60.24,108.25 C61.05,107.63 61.88,107.03 62.72,106.49 C63.55,105.95 64.40,105.45 65.26,105.00 C66.11,104.57 66.97,104.17 67.85,103.85 C68.72,103.53 69.60,103.26 70.50,103.08 C71.38,102.90 72.28,102.79 73.18,102.77 C74.09,102.75 75.00,102.82 75.91,102.94 C76.84,103.07 77.76,103.28 78.68,103.52 C79.62,103.77 80.55,104.08 81.48,104.40 C82.43,104.73 83.37,105.10 84.31,105.47 C85.26,105.84 86.21,106.25 87.16,106.63 C88.12,107.01 89.08,107.40 90.04,107.76 C91.00,108.11 91.96,108.46 92.94,108.76 C93.90,109.05 94.87,109.33 95.84,109.53 C96.81,109.72 97.79,109.87 98.76,109.95 C99.73,110.02 100.71,110.02 101.68,109.97 C102.66,109.91 103.64,109.79 104.61,109.64 C105.59,109.48 106.57,109.26 107.54,109.03 C108.53,108.79 109.50,108.50 110.48,108.21 C111.46,107.91 112.44,107.58 113.42,107.25 C114.40,106.92 115.37,106.56 116.35,106.22 C117.33,105.88 118.31,105.53 119.29,105.19 C120.27,104.85 121.25,104.52 122.23,104.19 C123.20,103.87 124.18,103.55 125.16,103.25 C126.13,102.94 127.11,102.63 128.09,102.34 C129.06,102.05 130.04,101.76 131.01,101.48 C131.99,101.20 132.96,100.93 133.93,100.66 C134.90,100.40 135.87,100.14 136.84,99.89 C137.81,99.64 138.78,99.40 139.75,99.17 C140.71,98.94 141.68,98.71 142.65,98.49 C143.61,98.28 144.57,98.07 145.53,97.86 C146.49,97.66 147.45,97.47 148.41,97.28 C149.36,97.10 150.32,96.92 151.27,96.75 C152.22,96.57 153.17,96.41 154.12,96.24 C155.07,96.07 156.01,95.90 156.96,95.72 C157.90,95.54 158.84,95.36 159.78,95.17 C160.72,94.98 161.65,94.78 162.58,94.56 C163.52,94.34 164.45,94.11 165.37,93.86 C166.30,93.61 167.22,93.34 168.14,93.04 C169.07,92.75 169.98,92.43 170.89,92.08 C171.81,91.73 172.72,91.35 173.62,90.94 C174.54,90.53 175.44,90.08 176.33,89.60 C177.23,89.12 178.13,88.61 179.01,88.07 C179.89,87.53 180.77,86.96 181.63,86.36 C182.50,85.77 183.35,85.15 184.19,84.51 C185.03,83.86 185.86,83.20 186.67,82.52 C187.48,81.84 188.27,81.13 189.04,80.42 C189.81,79.71 190.57,78.98 191.30,78.24 C192.03,77.50 192.74,76.75 193.43,75.99 C194.11,75.23 194.77,74.47 195.43,73.70 C196.07,72.93 196.70,72.16 197.33,71.39 C197.96,70.62 198.57,69.84 199.19,69.08 C199.81,68.31 200.42,67.55 201.05,66.79 C201.68,66.04 202.30,65.29 202.95,64.55 C203.60,63.81 204.26,63.09 204.94,62.38 C205.63,61.67 206.33,60.97 207.06,60.29 C207.80,59.62 208.56,58.95 209.35,58.32 C210.15,57.69 210.99,57.07 211.85,56.50 C212.70,55.94 213.59,55.40 214.49,54.94 C215.38,54.48 216.30,54.07 217.22,53.76 C218.12,53.46 219.05,53.21 219.96,53.10 C220.85,52.99 221.76,52.97 222.64,53.07 C223.50,53.18 224.37,53.42 225.18,53.73 C226.01,54.04 226.80,54.48 227.55,54.97 C228.30,55.46 229.00,56.06 229.66,56.69 C230.34,57.34 230.96,58.06 231.55,58.80 C232.16,59.56 232.72,60.38 233.27,61.20 C233.83,62.04 234.35,62.92 234.87,63.79 C235.40,64.67 235.90,65.57 236.41,66.47 C236.91,67.36 237.41,68.26 237.91,69.17 C238.41,70.07 238.90,70.98 239.38,71.89 C239.87,72.80 240.35,73.72 240.82,74.63 C241.29,75.55 241.76,76.47 242.22,77.39 C242.68,78.31 243.13,79.24 243.58,80.17 C244.02,81.09 244.46,82.02 244.89,82.96 C245.31,83.89 245.74,84.82 246.15,85.76 C246.56,86.70 246.96,87.64 247.36,88.58 C247.75,89.52 248.13,90.46 248.51,91.41 C248.88,92.35 249.25,93.29 249.60,94.24 C249.95,95.19 250.30,96.14 250.63,97.09 C250.96,98.04 251.28,98.99 251.59,99.94 C251.90,100.89 252.20,101.84 252.48,102.80 C252.77,103.75 253.04,104.71 253.31,105.66 C253.57,106.62 253.83,107.57 254.07,108.53 C254.32,109.49 254.56,110.44 254.80,111.40 C255.03,112.36 255.26,113.31 255.48,114.27 C255.71,115.23 255.92,116.19 256.14,117.15 C256.36,118.10 256.57,119.06 256.78,120.02 C257.00,120.98 257.21,121.94 257.42,122.90 C257.64,123.85 257.85,124.81 258.07,125.77 C258.29,126.73 258.50,127.68 258.73,128.64 C258.95,129.60 259.18,130.55 259.42,131.51 C259.65,132.46 259.89,133.42 260.14,134.37 C260.39,135.33 260.64,136.28 260.91,137.23 C261.18,138.19 261.45,139.14 261.74,140.09 C262.03,141.04 262.32,141.99 262.63,142.94 C262.95,143.89 263.27,144.84 263.61,145.78 C263.95,146.73 264.30,147.68 264.67,148.62 C265.04,149.56 265.43,150.51 265.83,151.44 C266.24,152.39 266.66,153.33 267.10,154.26 C267.54,155.20 268.00,156.13 268.48,157.06 C268.96,157.99 269.46,158.91 269.97,159.82 C270.49,160.74 271.02,161.65 271.57,162.54 C272.12,163.43 272.69,164.32 273.27,165.19 C273.85,166.06 274.45,166.92 275.07,167.77 C275.69,168.61 276.32,169.43 276.97,170.24 C277.61,171.05 278.28,171.84 278.96,172.61 C279.64,173.38 280.33,174.13 281.04,174.86 C281.75,175.58 282.47,176.28 283.21,176.96 C283.94,177.63 284.70,178.28 285.46,178.91 C286.22,179.52 287.00,180.12 287.80,180.68 C288.59,181.24 289.39,181.77 290.21,182.27 C291.03,182.76 291.86,183.23 292.70,183.66 C293.54,184.08 294.39,184.48 295.26,184.83 C296.12,185.18 297.00,185.50 297.89,185.77 C298.78,186.04 299.68,186.27 300.59,186.46 C301.50,186.64 302.42,186.79 303.35,186.89 C304.28,186.98 305.22,187.03 306.17,187.03 C307.12,187.04 308.08,186.98 309.04,186.89 C310.02,186.80 310.99,186.65 311.97,186.48 C312.96,186.31 313.94,186.10 314.93,185.89 C315.93,185.68 316.92,185.43 317.92,185.21 C318.92,184.98 319.92,184.74 320.92,184.53 C321.92,184.32 322.92,184.11 323.93,183.95 C324.92,183.78 325.92,183.64 326.92,183.55 C327.90,183.46 328.90,183.41 329.88,183.43 C330.86,183.45 331.84,183.53 332.81,183.67 C333.77,183.81 334.74,184.02 335.68,184.28 C336.63,184.53 337.58,184.85 338.50,185.21 C339.43,185.56 340.34,185.98 341.24,186.42 C342.14,186.87 343.02,187.37 343.89,187.90 C344.76,188.43 345.61,189.00 346.44,189.59 C347.27,190.19 348.08,190.81 348.87,191.46 C349.67,192.12 350.44,192.80 351.20,193.49 C351.97,194.19 352.71,194.92 353.44,195.65 C354.18,196.39 354.90,197.15 355.61,197.92 C356.33,198.70 357.03,199.49 357.73,200.28 C358.43,201.08 359.12,201.89 359.81,202.70 C360.50,203.51 361.19,204.34 361.88,205.15 C362.57,205.96 363.25,206.78 363.95,207.58 C364.64,208.38 365.33,209.18 366.04,209.95 C366.74,210.71 367.45,211.47 368.18,212.17 C368.89,212.85 369.62,213.52 370.38,214.11 C371.11,214.67 371.86,215.21 372.65,215.63 C373.42,216.03 374.21,216.38 375.03,216.59 C375.83,216.79 376.68,216.89 377.52,216.87 C378.37,216.84 379.25,216.67 380.09,216.43 C380.95,216.17 381.81,215.80 382.62,215.36 C383.45,214.91 384.26,214.37 385.02,213.77 C385.78,213.17 386.49,212.48 387.16,211.76 C387.84,211.03 388.45,210.24 389.04,209.43 C389.63,208.62 390.18,207.75 390.70,206.89 C391.22,206.02 391.71,205.12 392.18,204.23 C392.65,203.33 393.09,202.42 393.51,201.50 C393.94,200.58 394.34,199.66 394.73,198.73 C395.12,197.80 395.49,196.86 395.86,195.92 C396.22,194.98 396.58,194.03 396.93,193.09 C397.28,192.14 397.62,191.20 397.96,190.25 C398.31,189.31 398.64,188.37 398.99,187.43 C399.34,186.49 399.68,185.55 400.04,184.63 C400.40,183.70 400.77,182.78 401.15,181.86 C401.53,180.95 401.92,180.04 402.33,179.15 C402.74,178.26 403.16,177.38 403.62,176.51 C404.07,175.64 404.54,174.78 405.04,173.94 C405.54,173.11 406.06,172.28 406.62,171.48 C407.18,170.67 407.77,169.89 408.39,169.12 C409.01,168.36 409.68,167.61 410.36,166.89 C411.06,166.17 411.78,165.48 412.53,164.81 C413.28,164.13 414.06,163.49 414.86,162.87 C415.67,162.25 416.49,161.66 417.34,161.10 C418.19,160.55 419.06,160.02 419.95,159.52 C420.83,159.03 421.74,158.56 422.65,158.14 C423.57,157.71 424.50,157.32 425.44,156.96 C426.38,156.61 427.33,156.29 428.29,156.02 C429.24,155.75 430.21,155.51 431.18,155.32 C432.14,155.13 433.11,154.97 434.08,154.87 C435.05,154.77 436.02,154.71 436.98,154.69 C437.95,154.68 438.91,154.71 439.87,154.77 C440.83,154.84 441.79,154.95 442.75,155.10 C443.70,155.24 444.66,155.43 445.61,155.64 C446.56,155.85 447.52,156.10 448.46,156.37 C449.41,156.64 450.36,156.95 451.30,157.27 C452.25,157.60 453.19,157.95 454.13,158.32 C455.07,158.69 456.01,159.08 456.94,159.49 C457.88,159.90 458.81,160.33 459.74,160.76 C460.68,161.20 461.61,161.66 462.53,162.12 C463.46,162.58 464.39,163.05 465.31,163.52 C466.24,164.00 467.16,164.48 468.08,164.96 C469.00,165.44 469.92,165.93 470.84,166.41 C471.76,166.89 472.67,167.37 473.59,167.85 C474.50,168.32 475.41,168.78 476.32,169.24 C477.23,169.70 478.14,170.15 479.04,170.60 C479.95,171.04 480.85,171.48 481.76,171.92 C482.66,172.35 483.56,172.78 484.46,173.21 C485.36,173.63 486.25,174.05 487.15,174.47 C488.05,174.89 488.94,175.31 489.83,175.73 C490.72,176.15 491.61,176.56 492.50,176.98 C493.39,177.40 494.28,177.81 495.16,178.23 C496.05,178.65 496.93,179.07 497.81,179.49 C498.70,179.91 499.58,180.34 500.46,180.77 C501.33,181.20 502.21,181.63 503.09,182.07 C503.96,182.51 504.84,182.96 505.71,183.41 C506.58,183.86 507.45,184.32 508.32,184.78 C509.19,185.25 510.06,185.72 510.92,186.21 C511.79,186.69 512.65,187.18 513.51,187.68 C514.38,188.19 515.24,188.70 516.10,189.23 C516.96,189.75 517.82,190.29 518.67,190.84 C519.53,191.39 520.39,191.95 521.24,192.53 C522.09,193.11 522.94,193.71 523.79,194.31" stroke="#006400" stroke-width="1.5"/>
<path d="M46.80,136.30 C47.59,135.80 48.39,135.35 49.15,134.81 C49.94,134.25 50.70,133.63 51.45,132.99 C52.22,132.34 52.97,131.64 53.72,130.94 C54.48,130.23 55.22,129.49 55.97,128.76 C56.73,128.02 57.47,127.27 58.23,126.53 C58.99,125.80 59.75,125.07 60.53,124.37 C61.30,123.68 62.08,122.99 62.89,122.36 C63.68,121.74 64.48,121.14 65.32,120.61 C66.14,120.08 66.98,119.59 67.85,119.20 C68.71,118.81 69.60,118.46 70.51,118.23 C71.42,118.00 72.36,117.86 73.31,117.81 C74.28,117.76 75.27,117.84 76.26,117.96 C77.27,118.07 78.29,118.29 79.31,118.52 C80.34,118.75 81.37,119.06 82.39,119.34 C83.42,119.62 84.44,119.97 85.46,120.22 C86.46,120.46 87.47,120.73 88.46,120.82 C89.42,120.91 90.40,120.91 91.33,120.77 C92.24,120.63 93.15,120.34 94.00,120.00 C94.86,119.65 95.67,119.19 96.44,118.69 C97.22,118.18 97.94,117.58 98.63,116.95 C99.33,116.31 99.99,115.60 100.61,114.87 C101.25,114.12 101.84,113.32 102.42,112.51 C103.00,111.68 103.55,110.82 104.08,109.95 C104.62,109.07 105.14,108.16 105.65,107.26 C106.16,106.35 106.65,105.42 107.15,104.51 C107.64,103.59 108.13,102.68 108.62,101.76 C109.10,100.85 109.59,99.95 110.06,99.04 C110.54,98.13 111.02,97.23 111.49,96.33 C111.96,95.43 112.43,94.53 112.90,93.63 C113.37,92.73 113.83,91.84 114.30,90.95 C114.76,90.06 115.22,89.17 115.69,88.28 C116.15,87.39 116.61,86.50 117.07,85.62 C117.53,84.74 117.99,83.85 118.45,82.97 C118.91,82.09 119.37,81.21 119.83,80.34 C120.29,79.46 120.75,78.58 121.22,77.71 C121.68,76.84 122.15,75.96 122.62,75.10 C123.09,74.23 123.56,73.36 124.03,72.49 C124.51,71.63 124.98,70.77 125.47,69.91 C125.95,69.05 126.44,68.20 126.93,67.35 C127.43,66.50 127.93,65.65 128.43,64.81 C128.94,63.96 129.45,63.12 129.98,62.29 C130.50,61.45 131.03,60.62 131.56,59.80 C132.10,58.97 132.65,58.15 133.20,57.34 C133.76,56.53 134.32,55.72 134.90,54.91 C135.48,54.11 136.06,53.31 136.66,52.52 C137.26,51.73 137.87,50.95 138.49,50.17 C139.12,49.39 139.75,48.62 140.40,47.86 C141.05,47.10 141.71,46.34 142.39,45.59 C143.07,44.84 143.76,44.10 144.47,43.37 C145.18,42.64 145.90,41.92 146.64,41.20 C147.38,40.48 148.14,39.78 148.91,39.08 C149.69,38.38 150.48,37.69 151.29,37.02 C152.10,36.34 152.93,35.67 153.78,35.02 C154.62,34.37 155.48,33.74 156.35,33.13 C157.22,32.53 158.11,31.95 159.01,31.40 C159.90,30.86 160.81,30.34 161.73,29.88 C162.64,29.41 163.56,28.98 164.49,28.60 C165.41,28.23 166.35,27.90 167.29,27.63 C168.22,27.37 169.16,27.15 170.10,27.01 C171.03,26.86 171.97,26.78 172.91,26.78 C173.84,26.77 174.78,26.84 175.70,26.97 C176.63,27.11 177.56,27.31 178.47,27.57 C179.38,27.82 180.29,28.15 181.18,28.51 C182.08,28.88 182.96,29.30 183.83,29.76 C184.70,30.22 185.56,30.73 186.40,31.26 C187.24,31.80 188.07,32.38 188.88,32.98 C189.68,33.58 190.47,34.22 191.24,34.87 C192.01,35.52 192.76,36.20 193.49,36.89 C194.22,37.58 194.93,38.30 195.63,39.03 C196.32,39.77 197.00,40.52 197.65,41.29 C198.31,42.06 198.96,42.85 199.58,43.64 C200.21,44.44 200.82,45.26 201.41,46.08 C202.01,46.91 202.59,47.75 203.15,48.59 C203.72,49.44 204.27,50.30 204.81,51.17 C205.35,52.03 205.87,52.91 206.38,53.79 C206.90,54.67 207.39,55.55 207.88,56.44 C208.37,57.33 208.85,58.23 209.31,59.12 C209.78,60.02 210.23,60.92 210.68,61.82 C211.12,62.72 211.56,63.62 211.98,64.52 C212.41,65.42 212.82,66.33 213.23,67.24 C213.64,68.14 214.03,69.05 214.43,69.96 C214.82,70.87 215.20,71.78 215.57,72.70 C215.95,73.61 216.32,74.53 216.68,75.45 C217.04,76.36 217.40,77.28 217.74,78.20 C218.09,79.13 218.44,80.05 218.77,80.97 C219.11,81.90 219.45,82.83 219.77,83.76 C220.10,84.69 220.43,85.62 220.75,86.55 C221.07,87.48 221.38,88.42 221.70,89.35 C222.01,90.29 222.32,91.23 222.63,92.17 C222.94,93.11 223.24,94.06 223.54,95.00 C223.85,95.94 224.15,96.89 224.45,97.84 C224.75,98.79 225.05,99.74 225.35,100.69 C225.65,101.64 225.95,102.60 226.25,103.55 C226.55,104.51 226.85,105.47 227.16,106.43 C227.46,107.39 227.76,108.35 228.07,109.32 C228.37,110.28 228.68,111.25 228.99,112.22 C229.30,113.19 229.61,114.16 229.92,115.13 C230.24,116.10 230.55,117.08 230.88,118.05 C231.20,119.03 231.52,120.01 231.85,120.99 C232.19,121.97 232.52,122.95 232.87,123.92 C233.22,124.89 233.58,125.86 233.96,126.82 C234.34,127.77 234.73,128.71 235.15,129.64 C235.57,130.55 236.00,131.46 236.47,132.34 C236.94,133.22 237.42,134.08 237.95,134.90 C238.48,135.72 239.03,136.52 239.63,137.27 C240.23,138.03 240.86,138.75 241.53,139.43 C242.21,140.10 242.92,140.75 243.69,141.30 C244.46,141.85 245.27,142.36 246.14,142.71 C247.01,143.06 247.95,143.26 248.90,143.40 C249.87,143.55 250.89,143.49 251.90,143.54 C252.92,143.59 253.97,143.56 254.98,143.69 C255.99,143.82 257.00,144.01 257.96,144.31 C258.89,144.60 259.81,144.99 260.65,145.45 C261.47,145.91 262.24,146.46 262.94,147.07 C263.65,147.68 264.28,148.37 264.87,149.09 C265.47,149.82 266.00,150.62 266.50,151.44 C267.02,152.27 267.48,153.15 267.93,154.04 C268.39,154.94 268.81,155.88 269.23,156.82 C269.66,157.76 270.06,158.73 270.48,159.69 C270.90,160.65 271.32,161.63 271.76,162.59 C272.21,163.55 272.67,164.50 273.14,165.44 C273.61,166.38 274.09,167.32 274.57,168.25 C275.05,169.17 275.54,170.09 276.01,171.01 C276.48,171.92 276.95,172.83 277.40,173.74 C277.84,174.65 278.27,175.55 278.67,176.45 C279.08,177.35 279.46,178.25 279.83,179.15 C280.20,180.05 280.55,180.94 280.89,181.84 C281.23,182.74 281.55,183.64 281.86,184.54 C282.17,185.44 282.47,186.35 282.76,187.25 C283.06,188.16 283.34,189.07 283.62,189.99 C283.90,190.91 284.17,191.83 284.45,192.75 C284.73,193.69 285.00,194.62 285.29,195.56 C285.57,196.51 285.86,197.46 286.16,198.42 C286.46,199.39 286.77,200.36 287.10,201.34 C287.43,202.32 287.77,203.31 288.12,204.30 C288.48,205.29 288.85,206.28 289.24,207.27 C289.63,208.25 290.03,209.24 290.45,210.21 C290.87,211.18 291.31,212.15 291.77,213.10 C292.23,214.04 292.71,214.97 293.21,215.88 C293.71,216.79 294.23,217.68 294.77,218.54 C295.31,219.39 295.87,220.23 296.46,221.03 C297.05,221.83 297.65,222.60 298.29,223.32 C298.93,224.04 299.58,224.74 300.27,225.38 C300.95,226.02 301.67,226.62 302.41,227.18 C303.14,227.73 303.91,228.25 304.70,228.73 C305.50,229.22 306.33,229.66 307.17,230.08 C308.03,230.51 308.92,230.89 309.82,231.26 C310.74,231.63 311.69,231.97 312.64,232.30 C313.61,232.64 314.60,232.95 315.59,233.27 C316.58,233.59 317.59,233.89 318.59,234.21 C319.59,234.53 320.59,234.85 321.58,235.20 C322.55,235.54 323.53,235.89 324.48,236.28 C325.42,236.67 326.35,237.07 327.23,237.53 C328.11,237.98 328.97,238.46 329.77,239.00 C330.57,239.53 331.31,240.12 332.04,240.74 C332.76,241.35 333.43,242.03 334.11,242.70 C334.80,243.39 335.45,244.11 336.13,244.81 C336.83,245.53 337.52,246.26 338.24,246.97 C338.98,247.69 339.73,248.41 340.49,249.11 C341.27,249.81 342.06,250.51 342.87,251.17 C343.68,251.84 344.51,252.50 345.36,253.12 C346.20,253.73 347.06,254.33 347.95,254.88 C348.82,255.42 349.72,255.94 350.63,256.40 C351.53,256.86 352.45,257.28 353.39,257.64 C354.32,258.00 355.26,258.31 356.21,258.58 C357.16,258.85 358.13,259.07 359.09,259.26 C360.06,259.45 361.04,259.60 362.02,259.72 C363.00,259.84 363.98,259.93 364.97,259.99 C365.96,260.06 366.95,260.10 367.94,260.13 C368.93,260.16 369.92,260.16 370.92,260.16 C371.91,260.16 372.90,260.14 373.89,260.13 C374.87,260.12 375.86,260.09 376.84,260.08 C377.82,260.06 378.80,260.05 379.78,260.05 C380.76,260.04 381.74,260.05 382.71,260.07 C383.68,260.10 384.66,260.14 385.63,260.20 C386.60,260.27 387.57,260.36 388.53,260.48 C389.50,260.60 390.47,260.75 391.43,260.94 C392.40,261.13 393.37,261.36 394.33,261.63 C395.30,261.89 396.26,262.21 397.22,262.54 C398.19,262.86 399.15,263.22 400.11,263.57 C401.07,263.93 402.03,264.29 403.00,264.64 C403.96,264.99 404.92,265.34 405.89,265.68 C406.85,266.02 407.82,266.35 408.78,266.67 C409.75,267.00 410.71,267.32 411.68,267.63 C412.64,267.94 413.61,268.25 414.58,268.55 C415.54,268.85 416.51,269.14 417.48,269.43 C418.44,269.72 419.41,270.00 420.38,270.27 C421.34,270.55 422.31,270.82 423.28,271.09 C424.25,271.35 425.22,271.61 426.19,271.87 C427.16,272.12 428.13,272.37 429.10,272.61 C430.07,272.86 431.04,273.10 432.01,273.33 C432.98,273.56 433.95,273.79 434.92,274.02 C435.89,274.24 436.86,274.46 437.84,274.68 C438.81,274.89 439.78,275.10 440.76,275.31 C441.73,275.52 442.70,275.72 443.68,275.92 C444.65,276.12 445.63,276.31 446.60,276.50 C447.58,276.69 448.55,276.88 449.53,277.06 C450.50,277.25 451.48,277.43 452.46,277.60 C453.43,277.78 454.41,277.95 455.39,278.12 C456.37,278.29 457.35,278.46 458.33,278.62 C459.31,278.79 460.28,278.95 461.26,279.11 C462.24,279.26 463.23,279.42 464.21,279.57 C465.19,279.72 466.17,279.87 467.15,280.02 C468.13,280.17 469.12,280.31 470.10,280.46 C471.08,280.60 472.07,280.74 473.05,280.88 C474.04,281.02 475.02,281.16 476.01,281.29 C476.99,281.43 477.98,281.56 478.97,281.69 C479.95,281.83 480.94,281.96 481.93,282.08 C482.92,282.21 483.90,282.34 484.89,282.47 C485.88,282.60 486.87,282.72 487.86,282.85 C488.85,282.97 489.84,283.09 490.84,283.22 C491.83,283.34 492.82,283.46 493.81,283.58 C494.81,283.71 495.80,283.83 496.79,283.95 C497.79,284.07 498.78,284.19 499.78,284.31 C500.77,284.43 501.77,284.55 502.77,284.67 C503.76,284.80 504.76,284.92 505.76,285.04 C506.76,285.16 507.76,285.28 508.75,285.40 C509.75,285.52 510.76,285.65 511.76,285.77 C512.76,285.89 513.76,286.02 514.76,286.14 C515.76,286.27 516.77,286.39 517.77,286.52 C518.77,286.65 519.78,286.78 520.78,286.91 C521.79,287.04 522.80,287.17 523.80,287.30" stroke="#000000" stroke-width="1.5"/>
<path d="M46.81,238.60 C47.26,237.79 47.69,236.99 48.15,236.18 C48.62,235.36 49.10,234.53 49.59,233.71 C50.09,232.87 50.59,232.02 51.11,231.18 C51.63,230.33 52.17,229.47 52.71,228.62 C53.26,227.76 53.83,226.91 54.40,226.05 C54.97,225.19 55.56,224.34 56.15,223.48 C56.75,222.63 57.36,221.78 57.98,220.94 C58.60,220.09 59.24,219.25 59.88,218.43 C60.52,217.60 61.18,216.78 61.84,215.97 C62.51,215.16 63.18,214.36 63.87,213.58 C64.55,212.80 65.24,212.03 65.95,211.28 C66.65,210.53 67.36,209.80 68.09,209.08 C68.81,208.37 69.54,207.68 70.28,207.01 C71.01,206.34 71.76,205.69 72.52,205.07 C73.27,204.45 74.03,203.85 74.80,203.27 C75.56,202.69 76.34,202.14 77.12,201.59 C77.90,201.04 78.68,200.51 79.47,199.98 C80.26,199.45 81.06,198.94 81.86,198.42 C82.66,197.89 83.46,197.37 84.26,196.85 C85.07,196.32 85.88,195.78 86.68,195.24 C87.50,194.69 88.31,194.14 89.12,193.57 C89.93,193.01 90.74,192.43 91.55,191.85 C92.37,191.27 93.18,190.67 93.99,190.08 C94.81,189.48 95.62,188.87 96.43,188.26 C97.24,187.65 98.04,187.03 98.85,186.40 C99.65,185.78 100.45,185.15 101.25,184.52 C102.05,183.88 102.84,183.24 103.63,182.60 C104.42,181.96 105.21,181.31 105.99,180.66 C106.77,180.01 107.55,179.36 108.32,178.70 C109.10,178.05 109.87,177.39 110.64,176.73 C111.41,176.07 112.18,175.41 112.94,174.75 C113.71,174.09 114.47,173.42 115.23,172.76 C115.99,172.10 116.75,171.43 117.51,170.77 C118.27,170.11 119.03,169.45 119.79,168.78 C120.55,168.12 121.31,167.46 122.06,166.80 C122.82,166.15 123.58,165.49 124.34,164.84 C125.10,164.18 125.86,163.53 126.62,162.88 C127.38,162.23 128.14,161.59 128.91,160.95 C129.67,160.31 130.44,159.67 131.21,159.04 C131.97,158.40 132.74,157.77 133.52,157.15 C134.29,156.53 135.07,155.91 135.85,155.30 C136.63,154.69 137.42,154.08 138.20,153.48 C138.99,152.89 139.78,152.29 140.58,151.71 C141.38,151.12 142.18,150.55 142.99,149.98 C143.79,149.41 144.61,148.85 145.42,148.29 C146.24,147.74 147.06,147.20 147.89,146.66 C148.72,146.13 149.56,145.60 150.40,145.09 C151.25,144.57 152.10,144.07 152.95,143.58 C153.81,143.08 154.68,142.60 155.55,142.13 C156.42,141.66 157.30,141.20 158.19,140.75 C159.08,140.30 159.98,139.87 160.88,139.45 C161.79,139.02 162.70,138.61 163.62,138.21 C164.54,137.82 165.47,137.43 166.41,137.06 C167.34,136.68 168.28,136.32 169.23,135.97 C170.18,135.63 171.13,135.29 172.09,134.97 C173.05,134.64 174.02,134.33 174.99,134.03 C175.96,133.73 176.94,133.45 177.92,133.17 C178.90,132.90 179.89,132.64 180.87,132.39 C181.86,132.14 182.86,131.90 183.85,131.68 C184.85,131.46 185.85,131.24 186.85,131.05 C187.86,130.85 188.86,130.66 189.87,130.49 C190.88,130.31 191.89,130.15 192.90,130.01 C193.91,129.86 194.92,129.72 195.94,129.60 C196.95,129.48 197.97,129.37 198.99,129.27 C200.00,129.17 201.02,129.09 202.04,129.02 C203.05,128.94 204.07,128.89 205.09,128.83 C206.10,128.78 207.12,128.74 208.14,128.71 C209.15,128.67 210.16,128.65 211.18,128.62 C212.19,128.59 213.20,128.57 214.20,128.55 C215.21,128.52 216.22,128.50 217.22,128.47 C218.22,128.44 219.22,128.41 220.22,128.37 C221.21,128.33 222.21,128.28 223.20,128.22 C224.19,128.16 225.17,128.10 226.15,128.01 C227.13,127.93 228.11,127.84 229.08,127.72 C230.05,127.61 231.01,127.48 231.97,127.33 C232.93,127.18 233.89,127.01 234.84,126.82 C235.78,126.62 236.73,126.41 237.66,126.16 C238.59,125.91 239.52,125.64 240.44,125.34 C241.36,125.04 242.28,124.71 243.18,124.35 C244.09,124.00 244.99,123.61 245.88,123.20 C246.78,122.80 247.66,122.37 248.54,121.92 C249.42,121.47 250.30,120.99 251.17,120.50 C252.04,120.01 252.90,119.50 253.75,118.98 C254.61,118.46 255.46,117.91 256.31,117.36 C257.16,116.81 258.00,116.24 258.84,115.67 C259.68,115.09 260.51,114.51 261.34,113.91 C262.16,113.32 262.99,112.72 263.81,112.11 C264.63,111.50 265.45,110.89 266.26,110.27 C267.07,109.65 267.88,109.02 268.69,108.40 C269.49,107.77 270.30,107.14 271.10,106.50 C271.90,105.87 272.69,105.23 273.49,104.59 C274.28,103.96 275.07,103.32 275.87,102.68 C276.66,102.04 277.44,101.40 278.23,100.76 C279.02,100.13 279.80,99.49 280.59,98.86 C281.37,98.22 282.15,97.59 282.93,96.96 C283.71,96.33 284.50,95.70 285.28,95.08 C286.06,94.45 286.84,93.83 287.62,93.21 C288.40,92.59 289.18,91.98 289.97,91.36 C290.75,90.75 291.53,90.14 292.32,89.54 C293.10,88.93 293.89,88.33 294.68,87.74 C295.47,87.14 296.26,86.55 297.05,85.96 C297.84,85.37 298.64,84.79 299.44,84.22 C300.24,83.64 301.04,83.07 301.85,82.51 C302.65,81.94 303.46,81.38 304.27,80.83 C305.09,80.28 305.90,79.73 306.72,79.19 C307.55,78.65 308.37,78.12 309.20,77.60 C310.04,77.07 310.87,76.56 311.71,76.05 C312.56,75.54 313.41,75.04 314.26,74.54 C315.11,74.05 315.97,73.56 316.84,73.09 C317.71,72.61 318.58,72.14 319.46,71.69 C320.35,71.23 321.23,70.78 322.13,70.34 C323.03,69.90 323.93,69.47 324.84,69.05 C325.76,68.63 326.68,68.22 327.61,67.82 C328.54,67.42 329.48,67.04 330.42,66.66 C331.37,66.28 332.32,65.92 333.28,65.56 C334.25,65.21 335.22,64.87 336.19,64.54 C337.17,64.21 338.15,63.90 339.14,63.60 C340.13,63.30 341.12,63.01 342.11,62.74 C343.11,62.47 344.11,62.21 345.12,61.97 C346.12,61.73 347.13,61.50 348.14,61.29 C349.15,61.08 350.16,60.89 351.17,60.71 C352.18,60.54 353.20,60.38 354.21,60.24 C355.23,60.10 356.24,59.98 357.25,59.88 C358.27,59.78 359.28,59.69 360.29,59.63 C361.30,59.57 362.31,59.52 363.32,59.50 C364.32,59.48 365.32,59.48 366.32,59.50 C367.32,59.52 368.32,59.56 369.31,59.62 C370.30,59.69 371.28,59.77 372.26,59.89 C373.24,60.00 374.21,60.13 375.18,60.29 C376.14,60.45 377.10,60.63 378.06,60.84 C379.01,61.04 379.95,61.27 380.89,61.53 C381.83,61.78 382.76,62.06 383.68,62.35 C384.61,62.65 385.53,62.96 386.44,63.30 C387.35,63.63 388.26,63.99 389.16,64.36 C390.06,64.74 390.96,65.13 391.85,65.53 C392.74,65.94 393.63,66.36 394.51,66.80 C395.40,67.23 396.27,67.69 397.15,68.15 C398.02,68.61 398.89,69.09 399.76,69.58 C400.63,70.06 401.49,70.57 402.36,71.07 C403.22,71.58 404.08,72.10 404.93,72.63 C405.79,73.15 406.64,73.69 407.50,74.23 C408.35,74.77 409.20,75.32 410.05,75.87 C410.90,76.43 411.75,76.99 412.59,77.55 C413.44,78.11 414.29,78.67 415.13,79.24 C415.98,79.81 416.83,80.37 417.67,80.94 C418.52,81.51 419.36,82.08 420.21,82.65 C421.06,83.22 421.91,83.78 422.76,84.35 C423.60,84.91 424.45,85.47 425.31,86.03 C426.16,86.58 427.01,87.14 427.87,87.68 C428.72,88.23 429.58,88.77 430.44,89.30 C431.30,89.83 432.16,90.35 433.03,90.87 C433.89,91.39 434.76,91.89 435.64,92.39 C436.51,92.89 437.38,93.39 438.26,93.87 C439.13,94.35 440.01,94.83 440.90,95.30 C441.78,95.76 442.67,96.22 443.55,96.68 C444.44,97.13 445.33,97.57 446.23,98.01 C447.12,98.45 448.02,98.88 448.92,99.30 C449.81,99.72 450.72,100.14 451.62,100.55 C452.52,100.95 453.43,101.35 454.34,101.75 C455.25,102.14 456.16,102.53 457.08,102.91 C457.99,103.29 458.91,103.66 459.83,104.03 C460.75,104.39 461.67,104.75 462.59,105.10 C463.52,105.46 464.44,105.80 465.37,106.14 C466.30,106.48 467.24,106.81 468.17,107.14 C469.10,107.47 470.04,107.79 470.98,108.10 C471.92,108.41 472.86,108.72 473.80,109.02 C474.75,109.33 475.69,109.62 476.64,109.91 C477.59,110.20 478.54,110.48 479.50,110.76 C480.45,111.04 481.40,111.31 482.36,111.58 C483.32,111.85 484.28,112.11 485.24,112.36 C486.20,112.62 487.17,112.87 488.13,113.12 C489.10,113.36 490.07,113.60 491.04,113.84 C492.01,114.07 492.98,114.30 493.96,114.52 C494.93,114.75 495.91,114.97 496.89,115.18 C497.87,115.40 498.85,115.61 499.83,115.81 C500.82,116.02 501.80,116.22 502.79,116.41 C503.78,116.61 504.77,116.80 505.76,116.99 C506.75,117.17 507.74,117.35 508.74,117.53 C509.73,117.71 510.73,117.88 511.73,118.05 C512.73,118.22 513.73,118.39 514.73,118.55 C515.73,118.71 516.74,118.87 517.75,119.02 C518.75,119.17 519.76,119.32 520.77,119.47 C521.78,119.62 522.80,119.75 523.81,119.90" stroke="#990000" stroke-width="1.5"/>
<path d="M171.59,378.22 C171.93,377.24 172.26,376.26 172.59,375.28 C172.93,374.31 173.26,373.33 173.60,372.36 C173.93,371.39 174.27,370.42 174.60,369.44 C174.94,368.47 175.27,367.51 175.61,366.54 C175.95,365.57 176.28,364.60 176.62,363.64 C176.96,362.67 177.30,361.71 177.64,360.75 C177.98,359.79 178.32,358.83 178.66,357.87 C179.00,356.91 179.34,355.95 179.68,354.99 C180.02,354.03 180.37,353.08 180.71,352.12 C181.05,351.17 181.40,350.22 181.74,349.26 C182.08,348.31 182.43,347.36 182.78,346.41 C183.12,345.46 183.47,344.52 183.81,343.57 C184.16,342.62 184.51,341.67 184.86,340.73 C185.21,339.78 185.56,338.84 185.91,337.90 C186.26,336.96 186.61,336.01 186.96,335.07 C187.31,334.13 187.67,333.19 188.02,332.26 C188.37,331.32 188.73,330.38 189.08,329.44 C189.44,328.51 189.80,327.57 190.15,326.64 C190.51,325.70 190.87,324.77 191.23,323.84 C191.59,322.91 191.95,321.98 192.31,321.04 C192.67,320.11 193.03,319.19 193.40,318.26 C193.76,317.33 194.12,316.40 194.49,315.47 C194.85,314.55 195.22,313.62 195.59,312.70 C195.95,311.77 196.32,310.85 196.69,309.93 C197.06,309.00 197.43,308.08 197.80,307.16 C198.17,306.24 198.55,305.32 198.92,304.40 C199.29,303.48 199.67,302.56 200.04,301.64 C200.42,300.72 200.80,299.80 201.18,298.89 C201.55,297.97 201.93,297.05 202.31,296.14 C202.69,295.22 203.08,294.31 203.46,293.39 C203.84,292.48 204.23,291.57 204.61,290.65 C205.00,289.74 205.39,288.83 205.77,287.92 C206.16,287.01 206.55,286.09 206.94,285.18 C207.33,284.27 207.72,283.36 208.12,282.45 C208.51,281.55 208.91,280.64 209.30,279.73 C209.70,278.82 210.10,277.91 210.49,277.01 C210.89,276.10 211.29,275.19 211.70,274.29 C212.10,273.38 212.50,272.48 212.90,271.57 C213.31,270.67 213.71,269.76 214.12,268.86 C214.53,267.95 214.94,267.05 215.35,266.15 C215.76,265.24 216.17,264.34 216.58,263.44 C217.00,262.53 217.41,261.63 217.83,260.73 C218.25,259.83 218.66,258.93 219.08,258.03 C219.50,257.12 219.92,256.22 220.35,255.32 C220.77,254.42 221.19,253.52 221.62,252.62 C222.04,251.72 222.47,250.82 222.90,249.92 C223.33,249.02 223.76,248.12 224.19,247.23 C224.63,246.33 225.06,245.43 225.50,244.53 C225.93,243.63 226.37,242.73 226.81,241.83 C227.25,240.93 227.69,240.04 228.13,239.14 C228.58,238.24 229.02,237.34 229.47,236.44 C229.91,235.55 230.36,234.65 230.81,233.75 C231.26,232.85 231.71,231.96 232.17,231.06 C232.62,230.16 233.08,229.26 233.53,228.37 C233.99,227.47 234.45,226.57 234.91,225.67 C235.37,224.78 235.84,223.88 236.30,222.98 C236.77,222.08 237.23,221.19 237.70,220.29 C238.17,219.39 238.64,218.49 239.11,217.60 C239.59,216.70 240.06,215.80 240.54,214.90 C241.01,214.00 241.49,213.11 241.97,212.21 C242.45,211.31 242.94,210.41 243.42,209.51 C243.91,208.61 244.39,207.72 244.88,206.82 C245.37,205.92 245.86,205.02 246.35,204.12 C246.85,203.23 247.34,202.33 247.84,201.43 C248.34,200.54 248.84,199.64 249.34,198.75 C249.85,197.85 250.35,196.96 250.86,196.06 C251.37,195.17 251.88,194.28 252.39,193.39 C252.90,192.50 253.42,191.61 253.94,190.72 C254.46,189.83 254.98,188.95 255.50,188.06 C256.03,187.18 256.55,186.29 257.08,185.41 C257.61,184.53 258.15,183.65 258.68,182.77 C259.22,181.90 259.76,181.02 260.30,180.15 C260.84,179.27 261.38,178.40 261.93,177.53 C262.48,176.67 263.03,175.80 263.58,174.94 C264.14,174.07 264.70,173.21 265.26,172.35 C265.82,171.50 266.38,170.64 266.95,169.79 C267.52,168.94 268.09,168.09 268.66,167.24 C269.24,166.40 269.82,165.55 270.40,164.71 C270.98,163.87 271.56,163.04 272.15,162.21 C272.74,161.38 273.34,160.55 273.93,159.72 C274.53,158.90 275.13,158.08 275.73,157.26 C276.34,156.44 276.94,155.63 277.56,154.82 C278.17,154.02 278.78,153.21 279.40,152.41 C280.02,151.61 280.65,150.82 281.28,150.03 C281.90,149.24 282.54,148.45 283.17,147.67 C283.81,146.89 284.45,146.11 285.09,145.34 C285.74,144.57 286.39,143.81 287.04,143.05 C287.70,142.29 288.35,141.53 289.02,140.78 C289.68,140.03 290.35,139.29 291.02,138.55 C291.69,137.81 292.37,137.08 293.05,136.35 C293.73,135.62 294.41,134.90 295.10,134.18 C295.79,133.47 296.49,132.76 297.19,132.06 C297.89,131.36 298.59,130.66 299.30,129.97 C300.01,129.28 300.73,128.59 301.45,127.92 C302.16,127.24 302.89,126.57 303.62,125.91 C304.35,125.24 305.08,124.59 305.82,123.94 C306.56,123.29 307.31,122.65 308.06,122.01 C308.81,121.38 309.56,120.75 310.32,120.13 C311.09,119.51 311.85,118.90 312.62,118.29 C313.40,117.68 314.17,117.09 314.96,116.50 C315.74,115.91 316.53,115.33 317.32,114.75 C318.11,114.18 318.91,113.61 319.72,113.06 C320.52,112.50 321.34,111.95 322.15,111.41 C322.97,110.87 323.79,110.34 324.62,109.81 C325.45,109.29 326.28,108.78 327.12,108.27 C327.96,107.77 328.81,107.27 329.66,106.78 C330.52,106.29 331.37,105.81 332.24,105.35 C333.10,104.88 333.97,104.42 334.85,103.97 C335.73,103.51 336.61,103.07 337.50,102.64 C338.39,102.21 339.29,101.79 340.19,101.38 C341.09,100.97 342.00,100.56 342.91,100.17 C343.83,99.78 344.75,99.40 345.68,99.03 C346.61,98.66 347.54,98.30 348.48,97.95 C349.42,97.60 350.37,97.26 351.32,96.93 C352.27,96.60 353.23,96.29 354.19,95.98 C355.15,95.68 356.12,95.39 357.09,95.11 C358.06,94.83 359.03,94.56 360.01,94.31 C360.99,94.06 361.97,93.82 362.95,93.59 C363.94,93.37 364.92,93.15 365.91,92.95 C366.90,92.76 367.90,92.57 368.89,92.40 C369.89,92.23 370.88,92.08 371.88,91.94 C372.88,91.80 373.88,91.67 374.88,91.57 C375.88,91.46 376.88,91.37 377.89,91.29 C378.89,91.21 379.89,91.15 380.90,91.11 C381.90,91.07 382.90,91.04 383.90,91.03 C384.90,91.03 385.91,91.03 386.91,91.06 C387.91,91.09 388.91,91.13 389.90,91.20 C390.90,91.26 391.90,91.34 392.89,91.44 C393.88,91.54 394.88,91.66 395.87,91.80 C396.85,91.94 397.84,92.10 398.82,92.28 C399.81,92.46 400.79,92.66 401.76,92.88 C402.74,93.10 403.71,93.34 404.68,93.60 C405.64,93.86 406.61,94.15 407.57,94.45 C408.52,94.76 409.48,95.08 410.43,95.43 C411.38,95.78 412.32,96.15 413.26,96.54 C414.20,96.93 415.13,97.33 416.06,97.76 C416.99,98.18 417.92,98.62 418.84,99.07 C419.76,99.52 420.68,99.99 421.60,100.46 C422.51,100.94 423.43,101.43 424.34,101.92 C425.25,102.42 426.16,102.92 427.06,103.43 C427.97,103.94 428.87,104.46 429.77,104.98 C430.68,105.50 431.58,106.02 432.48,106.54 C433.38,107.06 434.27,107.59 435.17,108.11 C436.07,108.63 436.97,109.15 437.87,109.66 C438.76,110.18 439.66,110.69 440.56,111.19 C441.46,111.69 442.35,112.19 443.25,112.68 C444.15,113.16 445.05,113.64 445.95,114.11 C446.85,114.57 447.76,115.03 448.66,115.46 C449.57,115.90 450.47,116.32 451.38,116.73 C452.29,117.14 453.20,117.53 454.12,117.91 C455.03,118.28 455.94,118.65 456.86,119.00 C457.78,119.35 458.70,119.69 459.62,120.01 C460.54,120.34 461.47,120.65 462.39,120.96 C463.32,121.26 464.25,121.56 465.18,121.84 C466.11,122.13 467.04,122.40 467.98,122.67 C468.91,122.94 469.85,123.20 470.79,123.45 C471.73,123.70 472.67,123.95 473.61,124.19 C474.56,124.44 475.51,124.67 476.45,124.90 C477.40,125.14 478.35,125.36 479.31,125.59 C480.26,125.81 481.22,126.04 482.17,126.26 C483.13,126.48 484.09,126.70 485.05,126.92 C486.02,127.14 486.98,127.35 487.95,127.57 C488.92,127.79 489.89,128.02 490.86,128.24 C491.83,128.46 492.80,128.68 493.78,128.91 C494.76,129.13 495.74,129.35 496.72,129.58 C497.70,129.80 498.68,130.02 499.67,130.24 C500.66,130.47 501.64,130.69 502.63,130.91 C503.63,131.12 504.62,131.34 505.61,131.56 C506.61,131.77 507.61,131.98 508.61,132.19 C509.61,132.40 510.62,132.61 511.62,132.81 C512.63,133.01 513.64,133.21 514.65,133.41 C515.66,133.60 516.67,133.79 517.69,133.97 C518.70,134.16 519.72,134.34 520.74,134.51 C521.76,134.68 522.79,134.84 523.81,135.01" stroke="#d02000" stroke-width="1.5"/>
<path d="M231.55,378.18 C231.88,377.26 232.22,376.34 232.55,375.42 C232.89,374.50 233.23,373.58 233.57,372.66 C233.91,371.74 234.25,370.81 234.59,369.89 C234.93,368.97 235.27,368.04 235.62,367.12 C235.96,366.19 236.31,365.26 236.66,364.34 C237.01,363.41 237.36,362.48 237.71,361.55 C238.06,360.63 238.41,359.70 238.77,358.77 C239.12,357.84 239.48,356.91 239.83,355.98 C240.19,355.05 240.55,354.12 240.91,353.19 C241.28,352.26 241.64,351.33 242.00,350.40 C242.37,349.46 242.74,348.53 243.11,347.60 C243.48,346.67 243.85,345.74 244.22,344.81 C244.59,343.87 244.97,342.94 245.34,342.01 C245.72,341.08 246.10,340.15 246.48,339.22 C246.86,338.28 247.24,337.35 247.63,336.42 C248.02,335.49 248.40,334.56 248.79,333.63 C249.18,332.70 249.57,331.77 249.97,330.84 C250.36,329.91 250.76,328.98 251.15,328.05 C251.55,327.12 251.95,326.19 252.36,325.26 C252.76,324.33 253.16,323.40 253.57,322.48 C253.98,321.55 254.39,320.62 254.80,319.70 C255.21,318.77 255.63,317.85 256.04,316.92 C256.46,316.00 256.88,315.08 257.30,314.15 C257.72,313.23 258.15,312.31 258.58,311.39 C259.00,310.47 259.43,309.55 259.86,308.63 C260.30,307.71 260.73,306.80 261.17,305.88 C261.61,304.97 262.05,304.05 262.49,303.14 C262.93,302.22 263.38,301.31 263.83,300.40 C264.27,299.49 264.73,298.58 265.18,297.67 C265.63,296.76 266.09,295.86 266.55,294.95 C267.01,294.05 267.47,293.14 267.94,292.24 C268.40,291.34 268.87,290.44 269.34,289.54 C269.81,288.64 270.29,287.74 270.76,286.85 C271.24,285.95 271.72,285.06 272.21,284.17 C272.69,283.27 273.17,282.39 273.66,281.50 C274.15,280.61 274.65,279.72 275.14,278.84 C275.64,277.96 276.14,277.07 276.64,276.19 C277.14,275.32 277.65,274.44 278.15,273.56 C278.66,272.69 279.17,271.81 279.69,270.94 C280.20,270.07 280.72,269.20 281.24,268.34 C281.77,267.47 282.29,266.61 282.82,265.75 C283.35,264.89 283.88,264.03 284.42,263.17 C284.95,262.32 285.49,261.46 286.03,260.61 C286.58,259.76 287.12,258.91 287.67,258.07 C288.22,257.22 288.77,256.38 289.33,255.54 C289.89,254.70 290.45,253.86 291.01,253.03 C291.57,252.19 292.14,251.36 292.71,250.53 C293.29,249.71 293.86,248.88 294.44,248.06 C295.02,247.24 295.60,246.42 296.19,245.60 C296.77,244.79 297.36,243.97 297.96,243.16 C298.55,242.35 299.15,241.55 299.75,240.75 C300.35,239.94 300.96,239.14 301.57,238.35 C302.18,237.55 302.79,236.76 303.41,235.97 C304.03,235.18 304.65,234.40 305.28,233.61 C305.90,232.83 306.53,232.05 307.16,231.28 C307.80,230.51 308.44,229.74 309.08,228.97 C309.72,228.20 310.37,227.44 311.02,226.68 C311.67,225.92 312.32,225.16 312.98,224.41 C313.64,223.66 314.31,222.91 314.97,222.17 C315.64,221.43 316.31,220.69 316.99,219.95 C317.67,219.22 318.35,218.49 319.03,217.76 C319.72,217.03 320.41,216.31 321.10,215.59 C321.80,214.87 322.49,214.16 323.20,213.45 C323.90,212.74 324.61,212.04 325.32,211.34 C326.03,210.63 326.75,209.94 327.47,209.25 C328.19,208.56 328.92,207.87 329.65,207.19 C330.38,206.50 331.11,205.83 331.85,205.15 C332.59,204.48 333.34,203.81 334.09,203.15 C334.84,202.49 335.59,201.83 336.35,201.17 C337.11,200.52 337.87,199.87 338.64,199.23 C339.41,198.58 340.18,197.95 340.95,197.31 C341.73,196.68 342.51,196.05 343.30,195.43 C344.08,194.80 344.87,194.19 345.66,193.57 C346.46,192.96 347.25,192.35 348.06,191.75 C348.86,191.15 349.66,190.55 350.47,189.96 C351.28,189.37 352.09,188.78 352.91,188.20 C353.73,187.62 354.55,187.04 355.38,186.47 C356.20,185.90 357.03,185.34 357.86,184.78 C358.70,184.22 359.53,183.67 360.37,183.12 C361.21,182.57 362.06,182.03 362.90,181.50 C363.75,180.96 364.60,180.43 365.46,179.91 C366.31,179.38 367.17,178.86 368.03,178.35 C368.89,177.84 369.76,177.33 370.62,176.83 C371.49,176.33 372.36,175.84 373.24,175.35 C374.11,174.86 374.99,174.38 375.87,173.90 C376.75,173.42 377.64,172.95 378.52,172.49 C379.41,172.03 380.30,171.57 381.19,171.12 C382.09,170.67 382.98,170.22 383.88,169.78 C384.78,169.35 385.68,168.91 386.59,168.49 C387.49,168.06 388.40,167.64 389.31,167.23 C390.22,166.82 391.13,166.41 392.05,166.01 C392.97,165.62 393.88,165.22 394.81,164.84 C395.73,164.45 396.65,164.07 397.57,163.70 C398.50,163.33 399.43,162.96 400.36,162.60 C401.29,162.24 402.22,161.89 403.16,161.55 C404.09,161.20 405.03,160.87 405.97,160.54 C406.91,160.20 407.85,159.88 408.80,159.56 C409.74,159.25 410.69,158.94 411.64,158.64 C412.58,158.33 413.53,158.04 414.49,157.75 C415.44,157.46 416.39,157.18 417.35,156.90 C418.30,156.63 419.26,156.36 420.22,156.09 C421.18,155.83 422.14,155.57 423.11,155.32 C424.07,155.06 425.03,154.82 426.00,154.57 C426.97,154.33 427.93,154.09 428.90,153.86 C429.87,153.62 430.84,153.39 431.82,153.17 C432.79,152.94 433.76,152.72 434.74,152.50 C435.71,152.28 436.69,152.07 437.67,151.86 C438.65,151.64 439.62,151.44 440.60,151.23 C441.59,151.02 442.57,150.82 443.55,150.62 C444.53,150.41 445.52,150.22 446.50,150.02 C447.48,149.82 448.47,149.62 449.46,149.43 C450.44,149.23 451.43,149.04 452.42,148.85 C453.41,148.65 454.40,148.46 455.39,148.27 C456.38,148.08 457.37,147.89 458.36,147.69 C459.35,147.50 460.34,147.31 461.33,147.12 C462.33,146.92 463.32,146.73 464.31,146.54 C465.31,146.34 466.30,146.15 467.29,145.95 C468.29,145.76 469.28,145.56 470.28,145.36 C471.27,145.17 472.27,144.97 473.26,144.77 C474.26,144.57 475.26,144.37 476.25,144.17 C477.25,143.97 478.24,143.77 479.24,143.56 C480.24,143.36 481.23,143.16 482.23,142.96 C483.23,142.75 484.22,142.55 485.22,142.35 C486.21,142.14 487.21,141.94 488.21,141.73 C489.20,141.53 490.20,141.32 491.19,141.12 C492.19,140.91 493.18,140.70 494.18,140.50 C495.17,140.29 496.17,140.09 497.16,139.88 C498.16,139.67 499.15,139.46 500.14,139.26 C501.13,139.05 502.13,138.84 503.12,138.63 C504.11,138.43 505.10,138.22 506.09,138.01 C507.08,137.80 508.07,137.60 509.06,137.39 C510.05,137.18 511.04,136.97 512.03,136.77 C513.01,136.56 514.00,136.35 514.98,136.14 C515.97,135.94 516.95,135.73 517.94,135.52 C518.92,135.32 519.90,135.11 520.88,134.90 C521.87,134.70 522.84,134.49 523.82,134.29" stroke="#ff00ff" stroke-width="1.5"/>
<path d="M236.56,378.19 C236.89,377.27 237.21,376.36 237.55,375.44 C237.88,374.53 238.23,373.61 238.57,372.70 C238.92,371.78 239.27,370.87 239.62,369.95 C239.98,369.03 240.34,368.12 240.71,367.20 C241.08,366.29 241.45,365.37 241.82,364.45 C242.20,363.54 242.58,362.62 242.97,361.71 C243.36,360.79 243.75,359.87 244.15,358.96 C244.54,358.04 244.95,357.13 245.35,356.21 C245.76,355.30 246.17,354.39 246.59,353.47 C247.01,352.56 247.43,351.65 247.86,350.74 C248.29,349.83 248.72,348.92 249.16,348.01 C249.60,347.10 250.04,346.19 250.49,345.28 C250.93,344.38 251.39,343.47 251.84,342.57 C252.30,341.66 252.76,340.76 253.23,339.86 C253.70,338.96 254.17,338.06 254.65,337.16 C255.13,336.26 255.61,335.36 256.10,334.47 C256.58,333.57 257.08,332.68 257.57,331.79 C258.07,330.90 258.57,330.01 259.08,329.12 C259.59,328.23 260.10,327.35 260.62,326.47 C261.13,325.59 261.66,324.70 262.18,323.83 C262.71,322.95 263.24,322.07 263.78,321.20 C264.31,320.33 264.85,319.46 265.40,318.59 C265.95,317.72 266.50,316.86 267.05,316.00 C267.61,315.14 268.17,314.28 268.73,313.42 C269.30,312.57 269.87,311.72 270.44,310.87 C271.02,310.02 271.60,309.17 272.18,308.33 C272.77,307.49 273.36,306.65 273.95,305.81 C274.54,304.98 275.14,304.14 275.75,303.32 C276.35,302.49 276.96,301.66 277.57,300.84 C278.18,300.02 278.80,299.20 279.42,298.39 C280.05,297.58 280.67,296.77 281.31,295.97 C281.94,295.16 282.57,294.36 283.21,293.56 C283.86,292.77 284.50,291.98 285.15,291.19 C285.80,290.40 286.46,289.62 287.12,288.84 C287.78,288.06 288.44,287.29 289.11,286.52 C289.78,285.75 290.45,284.99 291.13,284.23 C291.81,283.47 292.49,282.72 293.18,281.97 C293.86,281.22 294.56,280.48 295.25,279.74 C295.95,279.00 296.65,278.27 297.36,277.54 C298.06,276.81 298.77,276.09 299.49,275.37 C300.20,274.66 300.92,273.94 301.64,273.24 C302.37,272.53 303.09,271.83 303.83,271.14 C304.56,270.45 305.30,269.76 306.04,269.08 C306.78,268.40 307.53,267.72 308.28,267.05 C309.03,266.38 309.78,265.72 310.54,265.06 C311.30,264.40 312.06,263.75 312.83,263.11 C313.60,262.47 314.37,261.83 315.15,261.20 C315.93,260.57 316.71,259.94 317.50,259.33 C318.28,258.71 319.07,258.10 319.87,257.50 C320.66,256.89 321.46,256.30 322.26,255.71 C323.07,255.12 323.88,254.54 324.69,253.96 C325.50,253.39 326.32,252.82 327.14,252.26 C327.96,251.70 328.78,251.15 329.61,250.60 C330.44,250.06 331.28,249.52 332.11,248.99 C332.95,248.46 333.79,247.94 334.64,247.43 C335.49,246.91 336.34,246.41 337.19,245.91 C338.05,245.41 338.91,244.92 339.77,244.44 C340.64,243.96 341.50,243.49 342.38,243.02 C343.25,242.56 344.13,242.10 345.01,241.65 C345.89,241.21 346.77,240.77 347.66,240.34 C348.55,239.91 349.44,239.48 350.34,239.07 C351.24,238.66 352.14,238.26 353.05,237.86 C353.95,237.47 354.86,237.08 355.77,236.70 C356.69,236.33 357.61,235.96 358.53,235.60 C359.45,235.24 360.38,234.89 361.31,234.56 C362.24,234.22 363.17,233.89 364.11,233.57 C365.05,233.25 365.99,232.94 366.94,232.64 C367.89,232.34 368.84,232.05 369.79,231.76 C370.75,231.48 371.70,231.21 372.66,230.95 C373.63,230.69 374.59,230.44 375.56,230.20 C376.52,229.96 377.50,229.73 378.47,229.51 C379.44,229.29 380.42,229.09 381.40,228.89 C382.38,228.69 383.36,228.50 384.34,228.32 C385.33,228.15 386.31,227.98 387.30,227.83 C388.29,227.67 389.28,227.53 390.27,227.40 C391.26,227.26 392.26,227.14 393.25,227.03 C394.25,226.92 395.25,226.82 396.25,226.74 C397.25,226.65 398.25,226.57 399.25,226.51 C400.25,226.44 401.25,226.39 402.26,226.35 C403.26,226.31 404.27,226.28 405.27,226.26 C406.28,226.25 407.29,226.24 408.29,226.25 C409.30,226.25 410.31,226.27 411.32,226.30 C412.32,226.34 413.33,226.38 414.34,226.43 C415.35,226.49 416.36,226.56 417.36,226.64 C418.37,226.72 419.38,226.82 420.39,226.92 C421.39,227.03 422.40,227.15 423.41,227.28 C424.41,227.41 425.42,227.56 426.42,227.72 C427.43,227.87 428.43,228.05 429.43,228.23 C430.44,228.42 431.44,228.61 432.44,228.82 C433.44,229.04 434.44,229.26 435.43,229.50 C436.43,229.74 437.43,229.99 438.42,230.25 C439.41,230.51 440.41,230.79 441.40,231.07 C442.39,231.36 443.38,231.65 444.37,231.95 C445.35,232.25 446.34,232.56 447.33,232.87 C448.31,233.18 449.30,233.50 450.28,233.82 C451.27,234.14 452.25,234.47 453.23,234.79 C454.21,235.12 455.19,235.45 456.17,235.77 C457.15,236.10 458.13,236.43 459.11,236.75 C460.09,237.07 461.07,237.39 462.04,237.71 C463.02,238.03 464.00,238.34 464.97,238.64 C465.95,238.95 466.92,239.25 467.90,239.54 C468.88,239.83 469.85,240.11 470.83,240.38 C471.80,240.65 472.77,240.91 473.75,241.16 C474.72,241.41 475.69,241.64 476.67,241.87 C477.64,242.09 478.62,242.30 479.59,242.50 C480.56,242.70 481.54,242.88 482.51,243.06 C483.49,243.24 484.46,243.41 485.43,243.57 C486.41,243.74 487.38,243.89 488.36,244.04 C489.33,244.19 490.31,244.34 491.28,244.48 C492.26,244.62 493.23,244.76 494.21,244.89 C495.19,245.03 496.17,245.16 497.14,245.30 C498.12,245.44 499.10,245.57 500.08,245.71 C501.06,245.85 502.04,245.99 503.02,246.13 C504.00,246.28 504.98,246.42 505.96,246.58 C506.95,246.73 507.93,246.89 508.92,247.06 C509.90,247.23 510.89,247.40 511.87,247.59 C512.86,247.78 513.85,247.97 514.84,248.18 C515.83,248.39 516.82,248.60 517.81,248.83 C518.81,249.07 519.80,249.31 520.79,249.57 C521.79,249.83 522.79,250.12 523.78,250.40" stroke="#f45a0a" stroke-width="1.5"/>
<path d="M305.81,378.18 C306.32,377.36 306.82,376.55 307.34,375.74 C307.86,374.92 308.39,374.11 308.92,373.30 C309.46,372.49 310.00,371.68 310.55,370.87 C311.10,370.06 311.66,369.25 312.23,368.45 C312.80,367.64 313.37,366.83 313.95,366.03 C314.54,365.22 315.13,364.42 315.73,363.62 C316.32,362.82 316.93,362.02 317.54,361.23 C318.16,360.43 318.78,359.64 319.40,358.85 C320.03,358.06 320.67,357.27 321.31,356.49 C321.95,355.70 322.60,354.92 323.26,354.14 C323.91,353.36 324.58,352.59 325.24,351.81 C325.92,351.04 326.59,350.27 327.28,349.51 C327.96,348.75 328.65,347.99 329.35,347.23 C330.04,346.48 330.75,345.73 331.46,344.98 C332.17,344.23 332.88,343.49 333.61,342.76 C334.33,342.02 335.06,341.29 335.80,340.56 C336.53,339.84 337.27,339.12 338.02,338.40 C338.77,337.69 339.52,336.98 340.28,336.27 C341.04,335.57 341.81,334.87 342.58,334.18 C343.35,333.49 344.13,332.81 344.91,332.13 C345.69,331.45 346.48,330.78 347.28,330.12 C348.07,329.46 348.87,328.80 349.67,328.15 C350.48,327.50 351.29,326.86 352.11,326.23 C352.92,325.60 353.74,324.98 354.57,324.36 C355.39,323.75 356.23,323.15 357.06,322.55 C357.90,321.96 358.74,321.37 359.59,320.80 C360.43,320.22 361.28,319.66 362.14,319.10 C362.99,318.55 363.85,318.01 364.72,317.48 C365.58,316.95 366.45,316.43 367.33,315.92 C368.20,315.41 369.08,314.92 369.96,314.44 C370.85,313.96 371.73,313.49 372.62,313.03 C373.52,312.58 374.41,312.13 375.31,311.70 C376.21,311.28 377.11,310.86 378.02,310.46 C378.93,310.06 379.84,309.68 380.76,309.31 C381.67,308.94 382.59,308.58 383.51,308.25 C384.43,307.91 385.36,307.58 386.29,307.28 C387.22,306.97 388.15,306.68 389.09,306.41 C390.03,306.14 390.97,305.88 391.91,305.64 C392.85,305.40 393.80,305.17 394.75,304.96 C395.70,304.76 396.65,304.56 397.61,304.38 C398.56,304.20 399.52,304.04 400.48,303.89 C401.45,303.74 402.41,303.60 403.38,303.48 C404.34,303.36 405.31,303.25 406.29,303.15 C407.26,303.06 408.23,302.97 409.21,302.90 C410.19,302.83 411.17,302.77 412.15,302.73 C413.13,302.68 414.12,302.64 415.10,302.62 C416.09,302.59 417.08,302.58 418.07,302.58 C419.06,302.57 420.05,302.58 421.05,302.59 C422.04,302.61 423.04,302.64 424.04,302.67 C425.04,302.71 426.04,302.75 427.04,302.80 C428.04,302.86 429.04,302.92 430.05,302.99 C431.05,303.06 432.06,303.13 433.06,303.22 C434.07,303.30 435.08,303.39 436.09,303.49 C437.10,303.59 438.11,303.69 439.13,303.80 C440.14,303.91 441.15,304.03 442.17,304.15 C443.18,304.27 444.20,304.39 445.21,304.52 C446.23,304.65 447.25,304.79 448.26,304.93 C449.28,305.07 450.30,305.21 451.32,305.36 C452.34,305.51 453.36,305.66 454.38,305.81 C455.40,305.96 456.42,306.12 457.44,306.28 C458.46,306.43 459.48,306.59 460.50,306.75 C461.52,306.92 462.55,307.08 463.57,307.24 C464.59,307.41 465.61,307.57 466.63,307.73 C467.65,307.90 468.67,308.06 469.69,308.23 C470.71,308.39 471.74,308.56 472.76,308.72 C473.78,308.88 474.80,309.04 475.82,309.20 C476.83,309.36 477.85,309.52 478.87,309.68 C479.89,309.83 480.91,309.99 481.92,310.14 C482.94,310.29 483.96,310.44 484.97,310.58 C485.99,310.73 487.00,310.87 488.01,311.00 C489.02,311.14 490.04,311.27 491.05,311.40 C492.06,311.52 493.07,311.65 494.08,311.76 C495.08,311.88 496.09,311.99 497.10,312.10 C498.10,312.20 499.10,312.30 500.11,312.39 C501.11,312.49 502.11,312.57 503.11,312.65 C504.11,312.73 505.10,312.80 506.10,312.86 C507.10,312.93 508.09,312.98 509.08,313.03 C510.07,313.07 511.06,313.11 512.05,313.14 C513.04,313.17 514.02,313.19 515.00,313.19 C515.99,313.20 516.97,313.20 517.95,313.19 C518.92,313.18 519.90,313.16 520.87,313.12 C521.85,313.09 522.82,313.03 523.79,312.99" stroke="#ff8000" stroke-width="1.5"/>
<path d="M305.86,378.18 C306.26,377.29 306.67,376.39 307.08,375.50 C307.48,374.60 307.90,373.71 308.31,372.81 C308.72,371.91 309.13,371.02 309.55,370.12 C309.97,369.23 310.38,368.33 310.80,367.43 C311.22,366.53 311.65,365.64 312.07,364.74 C312.49,363.84 312.92,362.94 313.35,362.05 C313.77,361.15 314.20,360.25 314.63,359.35 C315.07,358.46 315.50,357.56 315.94,356.66 C316.37,355.76 316.81,354.86 317.25,353.97 C317.69,353.07 318.13,352.17 318.57,351.27 C319.02,350.38 319.46,349.48 319.91,348.58 C320.36,347.68 320.81,346.79 321.26,345.89 C321.71,344.99 322.16,344.10 322.62,343.20 C323.08,342.30 323.53,341.41 323.99,340.51 C324.45,339.62 324.92,338.72 325.38,337.83 C325.85,336.93 326.31,336.04 326.78,335.14 C327.25,334.25 327.72,333.36 328.19,332.46 C328.67,331.57 329.14,330.68 329.62,329.79 C330.10,328.89 330.57,328.00 331.06,327.11 C331.54,326.22 332.02,325.33 332.51,324.45 C332.99,323.56 333.48,322.67 333.97,321.78 C334.46,320.89 334.96,320.01 335.45,319.12 C335.95,318.24 336.44,317.35 336.94,316.47 C337.44,315.58 337.94,314.70 338.45,313.82 C338.95,312.94 339.46,312.06 339.97,311.18 C340.47,310.30 340.98,309.42 341.50,308.54 C342.01,307.67 342.53,306.79 343.04,305.91 C343.56,305.04 344.08,304.16 344.60,303.29 C345.13,302.42 345.65,301.55 346.18,300.68 C346.70,299.81 347.23,298.94 347.77,298.07 C348.30,297.20 348.83,296.34 349.37,295.47 C349.91,294.61 350.44,293.75 350.99,292.88 C351.53,292.02 352.07,291.16 352.62,290.30 C353.16,289.45 353.71,288.59 354.26,287.73 C354.81,286.88 355.37,286.02 355.92,285.17 C356.48,284.32 357.04,283.47 357.60,282.62 C358.16,281.77 358.72,280.93 359.29,280.08 C359.86,279.24 360.42,278.39 361.00,277.55 C361.57,276.71 362.14,275.87 362.72,275.03 C363.29,274.20 363.87,273.36 364.45,272.53 C365.03,271.69 365.62,270.86 366.20,270.03 C366.79,269.20 367.38,268.38 367.97,267.55 C368.56,266.73 369.15,265.90 369.75,265.08 C370.35,264.26 370.95,263.44 371.55,262.62 C372.15,261.81 372.75,260.99 373.36,260.18 C373.97,259.37 374.58,258.56 375.19,257.75 C375.80,256.95 376.42,256.14 377.04,255.34 C377.65,254.54 378.27,253.74 378.90,252.94 C379.52,252.14 380.15,251.35 380.77,250.56 C381.40,249.76 382.03,248.97 382.67,248.19 C383.30,247.40 383.94,246.61 384.58,245.83 C385.22,245.05 385.86,244.27 386.50,243.50 C387.15,242.72 387.80,241.95 388.45,241.17 C389.10,240.40 389.75,239.64 390.41,238.87 C391.06,238.11 391.72,237.34 392.38,236.58 C393.04,235.83 393.71,235.07 394.38,234.32 C395.04,233.56 395.71,232.81 396.39,232.06 C397.06,231.32 397.74,230.57 398.41,229.83 C399.09,229.09 399.77,228.35 400.46,227.62 C401.14,226.88 401.83,226.15 402.52,225.42 C403.21,224.70 403.90,223.97 404.60,223.25 C405.30,222.53 405.99,221.81 406.70,221.09 C407.40,220.38 408.10,219.67 408.81,218.96 C409.52,218.25 410.23,217.55 410.94,216.85 C411.66,216.15 412.37,215.45 413.09,214.75 C413.81,214.06 414.53,213.37 415.26,212.68 C415.99,212.00 416.71,211.31 417.45,210.63 C418.18,209.95 418.91,209.28 419.65,208.60 C420.39,207.93 421.13,207.26 421.87,206.60 C422.61,205.94 423.36,205.27 424.11,204.62 C424.86,203.96 425.61,203.31 426.37,202.66 C427.13,202.01 427.89,201.36 428.65,200.72 C429.41,200.08 430.18,199.45 430.94,198.81 C431.71,198.18 432.48,197.55 433.26,196.93 C434.03,196.30 434.81,195.68 435.59,195.06 C436.37,194.45 437.16,193.84 437.95,193.23 C438.73,192.62 439.52,192.02 440.32,191.42 C441.11,190.82 441.91,190.22 442.71,189.63 C443.51,189.04 444.31,188.45 445.12,187.87 C445.92,187.29 446.73,186.71 447.55,186.14 C448.36,185.57 449.18,185.00 450.00,184.43 C450.82,183.87 451.64,183.31 452.46,182.76 C453.29,182.20 454.12,181.65 454.95,181.11 C455.79,180.56 456.62,180.02 457.46,179.49 C458.30,178.95 459.14,178.42 459.99,177.89 C460.83,177.37 461.68,176.84 462.54,176.33 C463.39,175.81 464.25,175.30 465.10,174.79 C465.96,174.29 466.83,173.78 467.69,173.29 C468.56,172.79 469.43,172.30 470.30,171.81 C471.17,171.33 472.05,170.84 472.93,170.37 C473.81,169.89 474.69,169.42 475.58,168.95 C476.47,168.49 477.36,168.03 478.25,167.57 C479.14,167.11 480.04,166.66 480.94,166.22 C481.84,165.77 482.75,165.33 483.65,164.90 C484.56,164.46 485.47,164.04 486.38,163.61 C487.30,163.19 488.22,162.77 489.14,162.36 C490.06,161.94 490.98,161.54 491.91,161.14 C492.84,160.73 493.77,160.34 494.71,159.95 C495.64,159.56 496.58,159.17 497.53,158.79 C498.47,158.41 499.42,158.04 500.37,157.67 C501.32,157.31 502.27,156.94 503.23,156.59 C504.18,156.23 505.14,155.88 506.11,155.54 C507.07,155.19 508.04,154.85 509.01,154.52 C509.98,154.19 510.96,153.86 511.94,153.54 C512.92,153.22 513.90,152.91 514.88,152.60 C515.87,152.29 516.86,151.99 517.85,151.69 C518.85,151.40 519.85,151.11 520.85,150.82 C521.85,150.54 522.86,150.27 523.86,149.99" stroke="#9400d3" stroke-width="1.5"/>
<path d="M327.55,378.13 C327.79,377.17 328.02,376.21 328.26,375.25 C328.49,374.29 328.73,373.33 328.97,372.37 C329.21,371.41 329.44,370.45 329.68,369.49 C329.92,368.53 330.16,367.57 330.40,366.60 C330.64,365.64 330.88,364.68 331.13,363.72 C331.37,362.75 331.61,361.79 331.86,360.83 C332.10,359.87 332.34,358.90 332.59,357.94 C332.83,356.98 333.08,356.01 333.33,355.05 C333.57,354.08 333.82,353.12 334.07,352.15 C334.32,351.19 334.57,350.22 334.82,349.26 C335.07,348.29 335.32,347.33 335.57,346.36 C335.82,345.40 336.07,344.43 336.32,343.47 C336.58,342.50 336.83,341.53 337.08,340.57 C337.34,339.60 337.59,338.63 337.85,337.67 C338.11,336.70 338.36,335.73 338.62,334.77 C338.88,333.80 339.14,332.83 339.40,331.86 C339.65,330.90 339.91,329.93 340.18,328.96 C340.44,327.99 340.70,327.02 340.96,326.06 C341.22,325.09 341.49,324.12 341.75,323.15 C342.01,322.18 342.28,321.21 342.54,320.25 C342.81,319.28 343.07,318.31 343.34,317.34 C343.61,316.37 343.88,315.40 344.14,314.43 C344.41,313.46 344.68,312.49 344.95,311.52 C345.22,310.55 345.49,309.59 345.77,308.62 C346.04,307.65 346.31,306.68 346.58,305.71 C346.86,304.74 347.13,303.77 347.41,302.80 C347.68,301.83 347.96,300.86 348.23,299.89 C348.51,298.92 348.79,297.95 349.07,296.98 C349.35,296.01 349.62,295.04 349.90,294.07 C350.18,293.10 350.47,292.13 350.75,291.16 C351.03,290.19 351.31,289.22 351.59,288.25 C351.88,287.28 352.16,286.31 352.45,285.34 C352.73,284.37 353.02,283.40 353.30,282.43 C353.59,281.46 353.88,280.49 354.17,279.52 C354.45,278.55 354.74,277.58 355.03,276.61 C355.32,275.64 355.61,274.67 355.90,273.71 C356.20,272.74 356.49,271.77 356.78,270.80 C357.07,269.83 357.37,268.86 357.66,267.89 C357.96,266.92 358.25,265.95 358.55,264.98 C358.85,264.01 359.14,263.05 359.44,262.08 C359.74,261.11 360.04,260.14 360.34,259.17 C360.64,258.20 360.94,257.23 361.24,256.27 C361.54,255.30 361.85,254.33 362.15,253.36 C362.45,252.39 362.76,251.43 363.06,250.46 C363.37,249.49 363.67,248.53 363.98,247.56 C364.28,246.59 364.59,245.62 364.90,244.66 C365.21,243.69 365.52,242.72 365.83,241.76 C366.14,240.79 366.45,239.82 366.76,238.86 C367.07,237.89 367.39,236.93 367.70,235.96 C368.01,235.00 368.33,234.03 368.64,233.07 C368.96,232.10 369.27,231.14 369.59,230.17 C369.91,229.21 370.23,228.24 370.54,227.28 C370.86,226.32 371.18,225.35 371.50,224.39 C371.82,223.42 372.15,222.46 372.47,221.50 C372.79,220.54 373.11,219.57 373.44,218.61 C373.76,217.65 374.09,216.69 374.41,215.72 C374.74,214.76 375.06,213.80 375.39,212.84 C375.72,211.88 376.05,210.92 376.38,209.96 C376.71,209.00 377.04,208.04 377.37,207.08 C377.70,206.12 378.03,205.16 378.36,204.20 C378.70,203.24 379.03,202.28 379.36,201.32 C379.70,200.37 380.03,199.41 380.37,198.45 C380.71,197.49 381.04,196.54 381.38,195.58 C381.72,194.62 382.06,193.67 382.40,192.71 C382.74,191.75 383.08,190.80 383.42,189.84 C383.76,188.89 384.11,187.93 384.45,186.98 C384.79,186.03 385.14,185.07 385.48,184.12 C385.83,183.17 386.18,182.21 386.52,181.26 C386.87,180.31 387.22,179.36 387.57,178.40 C387.92,177.45 388.27,176.50 388.62,175.55 C388.97,174.60 389.32,173.65 389.67,172.70 C390.02,171.75 390.38,170.80 390.73,169.85 C391.09,168.90 391.44,167.96 391.80,167.01 C392.15,166.06 392.51,165.11 392.87,164.17 C393.23,163.22 393.59,162.28 393.95,161.33 C394.31,160.38 394.67,159.44 395.03,158.50 C395.39,157.55 395.76,156.61 396.12,155.67 C396.49,154.72 396.86,153.78 397.22,152.84 C397.59,151.90 397.96,150.96 398.33,150.03 C398.71,149.09 399.08,148.15 399.45,147.21 C399.83,146.28 400.21,145.35 400.59,144.41 C400.97,143.48 401.35,142.55 401.73,141.62 C402.12,140.69 402.50,139.76 402.89,138.83 C403.28,137.91 403.67,136.98 404.07,136.06 C404.46,135.13 404.86,134.21 405.26,133.29 C405.65,132.37 406.06,131.46 406.46,130.54 C406.87,129.63 407.28,128.71 407.69,127.80 C408.10,126.89 408.51,125.98 408.93,125.07 C409.35,124.17 409.77,123.26 410.19,122.36 C410.62,121.46 411.05,120.56 411.48,119.66 C411.91,118.76 412.35,117.87 412.79,116.98 C413.23,116.09 413.67,115.20 414.12,114.31 C414.56,113.42 415.01,112.54 415.47,111.66 C415.93,110.78 416.39,109.90 416.85,109.03 C417.31,108.15 417.78,107.28 418.26,106.41 C418.73,105.54 419.21,104.68 419.69,103.82 C420.17,102.96 420.66,102.10 421.15,101.24 C421.64,100.39 422.14,99.54 422.64,98.69 C423.14,97.84 423.65,97.00 424.16,96.15 C424.67,95.31 425.19,94.48 425.71,93.64 C426.24,92.81 426.76,91.98 427.30,91.16 C427.83,90.33 428.37,89.51 428.92,88.69 C429.46,87.87 430.01,87.06 430.57,86.25 C431.13,85.44 431.69,84.64 432.26,83.84 C432.83,83.04 433.40,82.24 433.98,81.45 C434.57,80.66 435.15,79.87 435.75,79.09 C436.34,78.31 436.94,77.53 437.55,76.75 C438.16,75.98 438.77,75.21 439.39,74.45 C440.01,73.68 440.64,72.93 441.27,72.17 C441.91,71.42 442.55,70.67 443.20,69.92 C443.84,69.18 444.50,68.44 445.16,67.71 C445.82,66.97 446.49,66.25 447.17,65.52 C447.85,64.80 448.53,64.08 449.23,63.37 C449.92,62.66 450.62,61.95 451.32,61.25 C452.03,60.55 452.74,59.85 453.46,59.17 C454.18,58.48 454.90,57.79 455.64,57.11 C456.37,56.44 457.11,55.76 457.85,55.10 C458.60,54.43 459.35,53.77 460.11,53.12 C460.87,52.46 461.64,51.81 462.41,51.17 C463.18,50.53 463.96,49.90 464.74,49.27 C465.52,48.64 466.31,48.01 467.11,47.40 C467.91,46.78 468.71,46.17 469.51,45.57 C470.32,44.97 471.14,44.37 471.95,43.78 C472.77,43.19 473.60,42.61 474.43,42.03 C475.26,41.45 476.09,40.89 476.94,40.32 C477.78,39.76 478.62,39.21 479.48,38.66 C480.33,38.11 481.18,37.57 482.05,37.04 C482.91,36.50 483.78,35.97 484.65,35.46 C485.52,34.94 486.40,34.42 487.28,33.92 C488.16,33.42 489.05,32.92 489.94,32.43 C490.83,31.94 491.73,31.46 492.63,30.99 C493.53,30.51 494.44,30.05 495.35,29.59 C496.26,29.13 497.17,28.68 498.09,28.24 C499.01,27.80 499.93,27.36 500.86,26.94 C501.79,26.51 502.72,26.09 503.65,25.68 C504.59,25.28 505.53,24.87 506.47,24.48 C507.41,24.09 508.36,23.70 509.31,23.33 C510.26,22.95 511.22,22.59 512.18,22.23 C513.13,21.87 514.10,21.52 515.06,21.18 C516.03,20.84 517.00,20.50 517.97,20.18 C518.94,19.86 519.91,19.54 520.89,19.24 C521.87,18.93 522.86,18.64 523.84,18.35" stroke="#0a96f0" stroke-width="1.85"/>
<path d="M361.49,378.13 C361.73,377.19 361.96,376.24 362.20,375.30 C362.43,374.35 362.67,373.41 362.90,372.46 C363.14,371.51 363.37,370.56 363.61,369.61 C363.84,368.66 364.07,367.71 364.31,366.76 C364.54,365.81 364.77,364.85 365.01,363.90 C365.24,362.94 365.47,361.99 365.70,361.03 C365.94,360.08 366.17,359.12 366.40,358.16 C366.63,357.20 366.86,356.24 367.10,355.28 C367.33,354.32 367.56,353.36 367.79,352.40 C368.02,351.44 368.25,350.47 368.48,349.51 C368.71,348.55 368.95,347.58 369.18,346.62 C369.41,345.65 369.64,344.69 369.87,343.72 C370.10,342.75 370.33,341.79 370.56,340.82 C370.79,339.85 371.03,338.88 371.26,337.91 C371.49,336.94 371.72,335.97 371.95,335.00 C372.18,334.03 372.42,333.06 372.65,332.09 C372.88,331.11 373.11,330.14 373.34,329.17 C373.58,328.20 373.81,327.22 374.04,326.25 C374.28,325.27 374.51,324.30 374.74,323.32 C374.98,322.35 375.21,321.37 375.45,320.40 C375.68,319.42 375.92,318.44 376.15,317.47 C376.39,316.49 376.62,315.51 376.86,314.53 C377.10,313.56 377.33,312.58 377.57,311.60 C377.81,310.62 378.05,309.64 378.28,308.66 C378.52,307.68 378.76,306.70 379.00,305.73 C379.24,304.75 379.48,303.77 379.72,302.79 C379.96,301.81 380.20,300.82 380.45,299.84 C380.69,298.86 380.93,297.88 381.18,296.90 C381.42,295.92 381.66,294.94 381.91,293.96 C382.15,292.98 382.40,292.00 382.65,291.02 C382.89,290.04 383.14,289.05 383.39,288.07 C383.64,287.09 383.89,286.11 384.14,285.13 C384.39,284.15 384.64,283.17 384.89,282.19 C385.15,281.20 385.40,280.22 385.65,279.24 C385.91,278.26 386.16,277.28 386.42,276.30 C386.68,275.32 386.94,274.34 387.19,273.36 C387.45,272.38 387.71,271.40 387.97,270.42 C388.23,269.44 388.50,268.46 388.76,267.48 C389.02,266.50 389.29,265.52 389.55,264.54 C389.82,263.56 390.09,262.58 390.35,261.60 C390.62,260.62 390.89,259.64 391.16,258.67 C391.43,257.69 391.71,256.71 391.98,255.73 C392.25,254.76 392.53,253.78 392.80,252.80 C393.08,251.83 393.36,250.85 393.64,249.88 C393.92,248.90 394.20,247.93 394.48,246.95 C394.76,245.98 395.05,245.00 395.33,244.03 C395.62,243.06 395.90,242.09 396.19,241.11 C396.48,240.14 396.77,239.17 397.06,238.20 C397.35,237.23 397.65,236.26 397.94,235.29 C398.24,234.32 398.53,233.35 398.83,232.38 C399.13,231.41 399.43,230.45 399.73,229.48 C400.04,228.51 400.34,227.55 400.65,226.58 C400.95,225.62 401.26,224.65 401.57,223.69 C401.88,222.72 402.19,221.76 402.50,220.80 C402.81,219.84 403.13,218.88 403.45,217.92 C403.76,216.96 404.08,216.00 404.40,215.04 C404.72,214.08 405.05,213.12 405.37,212.17 C405.70,211.21 406.02,210.25 406.35,209.30 C406.68,208.34 407.01,207.39 407.35,206.44 C407.68,205.49 408.01,204.53 408.35,203.58 C408.69,202.63 409.03,201.69 409.37,200.74 C409.71,199.79 410.06,198.84 410.40,197.90 C410.75,196.95 411.10,196.01 411.45,195.06 C411.80,194.12 412.16,193.18 412.51,192.24 C412.87,191.30 413.23,190.36 413.59,189.42 C413.95,188.48 414.31,187.54 414.67,186.61 C415.04,185.67 415.41,184.74 415.78,183.80 C416.15,182.87 416.52,181.94 416.90,181.01 C417.27,180.08 417.65,179.15 418.03,178.22 C418.41,177.29 418.79,176.37 419.18,175.44 C419.57,174.52 419.95,173.59 420.34,172.67 C420.74,171.75 421.13,170.83 421.53,169.91 C421.92,168.99 422.32,168.08 422.72,167.16 C423.12,166.25 423.53,165.33 423.94,164.42 C424.34,163.51 424.75,162.60 425.17,161.69 C425.58,160.78 426.00,159.87 426.42,158.96 C426.83,158.06 427.26,157.16 427.68,156.25 C428.10,155.35 428.53,154.45 428.96,153.55 C429.39,152.65 429.83,151.76 430.26,150.86 C430.70,149.97 431.14,149.07 431.58,148.18 C432.02,147.29 432.47,146.40 432.92,145.51 C433.37,144.63 433.82,143.74 434.28,142.86 C434.73,141.97 435.19,141.09 435.65,140.21 C436.11,139.33 436.58,138.45 437.04,137.58 C437.51,136.70 437.98,135.83 438.46,134.95 C438.93,134.08 439.41,133.21 439.89,132.34 C440.37,131.48 440.86,130.61 441.34,129.75 C441.83,128.88 442.32,128.02 442.82,127.16 C443.31,126.31 443.81,125.45 444.31,124.59 C444.81,123.74 445.32,122.89 445.83,122.04 C446.34,121.19 446.85,120.34 447.36,119.49 C447.88,118.65 448.40,117.81 448.92,116.97 C449.44,116.13 449.97,115.29 450.50,114.45 C451.03,113.62 451.56,112.78 452.10,111.95 C452.64,111.12 453.18,110.29 453.73,109.47 C454.27,108.64 454.82,107.82 455.37,107.00 C455.92,106.18 456.48,105.36 457.04,104.54 C457.60,103.73 458.16,102.92 458.73,102.11 C459.30,101.30 459.87,100.49 460.45,99.69 C461.02,98.88 461.60,98.08 462.18,97.28 C462.77,96.48 463.35,95.69 463.95,94.89 C464.54,94.10 465.13,93.31 465.73,92.52 C466.33,91.74 466.93,90.95 467.54,90.17 C468.15,89.39 468.76,88.61 469.38,87.83 C469.99,87.06 470.61,86.29 471.24,85.52 C471.86,84.75 472.49,83.98 473.12,83.22 C473.75,82.46 474.39,81.70 475.03,80.94 C475.67,80.18 476.32,79.43 476.97,78.68 C477.62,77.93 478.27,77.18 478.93,76.44 C479.59,75.69 480.25,74.95 480.92,74.21 C481.58,73.48 482.26,72.74 482.93,72.01 C483.61,71.28 484.29,70.55 484.97,69.83 C485.66,69.10 486.35,68.38 487.04,67.67 C487.74,66.95 488.43,66.23 489.14,65.52 C489.84,64.81 490.55,64.11 491.26,63.40 C491.97,62.70 492.69,62.00 493.41,61.31 C494.13,60.61 494.86,59.92 495.59,59.23 C496.32,58.54 497.06,57.85 497.80,57.17 C498.54,56.49 499.28,55.81 500.03,55.14 C500.78,54.47 501.54,53.80 502.30,53.13 C503.06,52.46 503.82,51.80 504.59,51.14 C505.36,50.48 506.13,49.83 506.91,49.18 C507.69,48.53 508.48,47.88 509.27,47.24 C510.06,46.59 510.85,45.95 511.65,45.32 C512.45,44.68 513.25,44.05 514.06,43.43 C514.87,42.80 515.69,42.17 516.51,41.56 C517.33,40.94 518.15,40.32 518.98,39.71 C519.81,39.10 520.65,38.49 521.48,37.89 C522.33,37.29 523.18,36.70 524.02,36.10" stroke="#0a1ea8" stroke-width="1.85"/>
<path d="M391.55,378.15 C391.78,377.19 392.01,376.24 392.24,375.28 C392.47,374.33 392.70,373.37 392.93,372.42 C393.16,371.46 393.39,370.50 393.62,369.54 C393.85,368.58 394.08,367.62 394.31,366.66 C394.53,365.70 394.76,364.74 394.99,363.78 C395.22,362.82 395.45,361.86 395.68,360.89 C395.91,359.93 396.14,358.97 396.37,358.00 C396.60,357.04 396.83,356.07 397.05,355.11 C397.28,354.14 397.51,353.17 397.74,352.21 C397.97,351.24 398.20,350.27 398.43,349.30 C398.66,348.33 398.89,347.36 399.12,346.39 C399.35,345.42 399.58,344.45 399.81,343.48 C400.04,342.51 400.27,341.54 400.50,340.57 C400.73,339.60 400.96,338.62 401.19,337.65 C401.43,336.68 401.66,335.70 401.89,334.73 C402.12,333.76 402.35,332.78 402.59,331.81 C402.82,330.83 403.05,329.86 403.29,328.88 C403.52,327.91 403.75,326.93 403.99,325.96 C404.22,324.98 404.46,324.00 404.69,323.03 C404.93,322.05 405.17,321.07 405.40,320.10 C405.64,319.12 405.88,318.14 406.11,317.16 C406.35,316.19 406.59,315.21 406.83,314.23 C407.07,313.25 407.31,312.27 407.55,311.30 C407.79,310.32 408.03,309.34 408.27,308.36 C408.51,307.38 408.76,306.40 409.00,305.42 C409.24,304.44 409.49,303.47 409.73,302.49 C409.98,301.51 410.22,300.53 410.47,299.55 C410.72,298.57 410.96,297.59 411.21,296.61 C411.46,295.63 411.71,294.65 411.96,293.67 C412.21,292.70 412.46,291.72 412.71,290.74 C412.97,289.76 413.22,288.78 413.47,287.80 C413.73,286.82 413.98,285.84 414.24,284.86 C414.50,283.89 414.75,282.91 415.01,281.93 C415.27,280.95 415.53,279.97 415.79,279.00 C416.05,278.02 416.31,277.04 416.58,276.06 C416.84,275.08 417.10,274.11 417.37,273.13 C417.63,272.15 417.90,271.18 418.17,270.20 C418.44,269.23 418.71,268.25 418.98,267.27 C419.25,266.30 419.52,265.32 419.79,264.35 C420.07,263.37 420.34,262.40 420.62,261.42 C420.89,260.45 421.17,259.48 421.45,258.50 C421.73,257.53 422.01,256.56 422.29,255.59 C422.57,254.61 422.85,253.64 423.14,252.67 C423.42,251.70 423.71,250.73 424.00,249.76 C424.29,248.79 424.58,247.82 424.87,246.85 C425.16,245.88 425.45,244.91 425.74,243.94 C426.04,242.98 426.34,242.01 426.63,241.04 C426.93,240.08 427.23,239.11 427.53,238.14 C427.83,237.18 428.13,236.21 428.44,235.25 C428.74,234.29 429.05,233.32 429.36,232.36 C429.67,231.40 429.98,230.44 430.29,229.48 C430.60,228.52 430.91,227.56 431.23,226.60 C431.55,225.64 431.86,224.68 432.18,223.72 C432.50,222.76 432.82,221.81 433.15,220.85 C433.47,219.89 433.80,218.94 434.12,217.99 C434.45,217.03 434.78,216.08 435.11,215.13 C435.44,214.17 435.78,213.22 436.11,212.27 C436.45,211.32 436.79,210.37 437.13,209.43 C437.47,208.48 437.81,207.53 438.15,206.58 C438.50,205.64 438.84,204.69 439.19,203.75 C439.54,202.81 439.89,201.86 440.24,200.92 C440.60,199.98 440.95,199.04 441.31,198.10 C441.67,197.16 442.03,196.22 442.39,195.28 C442.75,194.35 443.12,193.41 443.49,192.48 C443.85,191.54 444.22,190.61 444.60,189.68 C444.97,188.74 445.34,187.81 445.72,186.88 C446.10,185.95 446.48,185.03 446.86,184.10 C447.24,183.17 447.62,182.25 448.01,181.32 C448.40,180.40 448.79,179.47 449.18,178.55 C449.57,177.63 449.97,176.71 450.37,175.79 C450.76,174.87 451.16,173.96 451.57,173.04 C451.97,172.12 452.37,171.21 452.78,170.30 C453.19,169.38 453.60,168.47 454.02,167.56 C454.43,166.65 454.85,165.74 455.27,164.84 C455.69,163.93 456.11,163.03 456.53,162.12 C456.96,161.22 457.39,160.32 457.82,159.42 C458.25,158.52 458.68,157.62 459.12,156.72 C459.56,155.82 459.99,154.93 460.44,154.03 C460.88,153.14 461.33,152.25 461.77,151.36 C462.22,150.47 462.67,149.58 463.13,148.69 C463.58,147.80 464.04,146.92 464.50,146.04 C464.96,145.15 465.43,144.27 465.90,143.39 C466.36,142.51 466.83,141.63 467.31,140.76 C467.78,139.88 468.26,139.01 468.74,138.14 C469.22,137.26 469.70,136.39 470.19,135.53 C470.67,134.66 471.16,133.79 471.66,132.93 C472.15,132.06 472.65,131.20 473.14,130.34 C473.64,129.48 474.15,128.62 474.65,127.76 C475.16,126.91 475.67,126.05 476.18,125.20 C476.70,124.35 477.21,123.50 477.73,122.65 C478.25,121.80 478.78,120.96 479.31,120.11 C479.83,119.27 480.36,118.43 480.90,117.59 C481.43,116.75 481.97,115.91 482.51,115.08 C483.05,114.24 483.60,113.41 484.15,112.58 C484.70,111.75 485.25,110.92 485.81,110.09 C486.36,109.27 486.92,108.44 487.49,107.62 C488.05,106.80 488.62,105.98 489.19,105.16 C489.76,104.34 490.33,103.53 490.91,102.72 C491.49,101.91 492.07,101.10 492.66,100.29 C493.25,99.48 493.84,98.68 494.43,97.87 C495.03,97.07 495.62,96.27 496.23,95.47 C496.83,94.67 497.43,93.88 498.04,93.09 C498.65,92.29 499.27,91.50 499.88,90.72 C500.50,89.93 501.12,89.14 501.75,88.36 C502.38,87.58 503.01,86.80 503.64,86.02 C504.28,85.24 504.91,84.47 505.56,83.70 C506.20,82.92 506.85,82.15 507.50,81.39 C508.15,80.62 508.80,79.86 509.46,79.09 C510.12,78.33 510.78,77.57 511.45,76.82 C512.12,76.06 512.79,75.31 513.47,74.56 C514.14,73.81 514.83,73.06 515.51,72.32 C516.20,71.57 516.88,70.83 517.58,70.09 C518.27,69.35 518.97,68.61 519.67,67.88 C520.38,67.15 521.08,66.42 521.79,65.69 C522.51,64.96 523.23,64.24 523.94,63.51" stroke="#0a0a48" stroke-width="1.85"/>
</g>
<text x="61.7" y="97.6" fill="#2e6b3a" stroke="#2e6b3a" stroke-width="0.22" font-size="11" textLength="25" lengthAdjust="spacingAndGlyphs">193A</text>
<text x="63.9" y="134.5" fill="#2f4f3f" stroke="#2f4f3f" stroke-width="0.22" font-size="11" textLength="25" lengthAdjust="spacingAndGlyphs">171A</text>
<text x="54.2" y="159.1" fill="#2a7a3a" stroke="#2a7a3a" stroke-width="0.22" font-size="11" textLength="25" lengthAdjust="spacingAndGlyphs">211A</text>
<text x="87.5" y="225.1" fill="#3a9a5a" stroke="#3a9a5a" stroke-width="0.22" font-size="11" textLength="25" lengthAdjust="spacingAndGlyphs">335A</text>
<text x="57.1" y="271.8" fill="#9acd32" stroke="#9acd32" stroke-width="0.22" font-size="11" textLength="25" lengthAdjust="spacingAndGlyphs">131A</text>
<text x="74.4" y="368.9" fill="#6aa830" stroke="#6aa830" stroke-width="0.22" font-size="11" textLength="18.5" lengthAdjust="spacingAndGlyphs">94A</text>
<text x="109.5" y="189.6" fill="#9a1a1a" stroke="#9a1a1a" stroke-width="0.22" font-size="11" textLength="39" lengthAdjust="spacingAndGlyphs">Al mesh</text>
<text x="137" y="369.6" fill="#c81e1e" stroke="#c81e1e" stroke-width="0.22" font-size="11" textLength="35.5" lengthAdjust="spacingAndGlyphs">Be thin</text>
<text x="219.3" y="333.3" fill="#e61ee6" stroke="#e61ee6" stroke-width="0.22" font-size="11" textLength="26.8" lengthAdjust="spacingAndGlyphs">GOES</text>
<text x="219.3" y="346.4" fill="#e61ee6" stroke="#e61ee6" stroke-width="0.22" font-size="11" textLength="18.3" lengthAdjust="spacingAndGlyphs">low</text>
<text x="297.9" y="333.1" fill="#9030c8" stroke="#9030c8" stroke-width="0.22" font-size="11" textLength="26.7" lengthAdjust="spacingAndGlyphs">GOES</text>
<text x="298.2" y="346.2" fill="#9030c8" stroke="#9030c8" stroke-width="0.22" font-size="11" textLength="21" lengthAdjust="spacingAndGlyphs">high</text>
<text x="480.5" y="260.5" fill="#ee6e4a" stroke="#ee6e4a" stroke-width="0.22" font-size="11" textLength="36.3" lengthAdjust="spacingAndGlyphs">Al thick</text>
<text x="477.9" y="323.5" fill="#f58a30" stroke="#f58a30" stroke-width="0.22" font-size="11" textLength="39.1" lengthAdjust="spacingAndGlyphs">Be thick</text>
<text x="234.3" y="409" fill="#000" font-size="13.2" textLength="101.4" lengthAdjust="spacingAndGlyphs">temperature [MK]</text>
<text transform="translate(11,252.5) rotate(-90)" fill="#000" font-size="13.2" textLength="124" lengthAdjust="spacingAndGlyphs">normalized response</text>
<text x="186" y="395" fill="#000" font-size="13" text-anchor="middle">1</text>
<text x="385.2" y="395" fill="#000" font-size="13" text-anchor="middle">10</text>
<text x="43.5" y="10.7" fill="#000" font-size="13" text-anchor="end">10</text>
<text x="43" y="75.3" fill="#000" font-size="13" text-anchor="end">1</text>
<text x="36" y="144.2" fill="#000" font-size="13" text-anchor="end">10</text>
<text x="36.2" y="138.2" fill="#000" font-size="8.5">-1</text>
<text x="36" y="211.8" fill="#000" font-size="13" text-anchor="end">10</text>
<text x="36.2" y="205.8" fill="#000" font-size="8.5">-2</text>
<text x="36" y="279.8" fill="#000" font-size="13" text-anchor="end">10</text>
<text x="36.2" y="273.8" fill="#000" font-size="8.5">-3</text>
<text x="36" y="347.6" fill="#000" font-size="13" text-anchor="end">10</text>
<text x="36.2" y="341.6" fill="#000" font-size="8.5">-4</text>
<text transform="translate(344,370.4) rotate(-77)" fill="#1e96e0" stroke="#1e96e0" stroke-width="0.35" font-size="11" font-style="italic" textLength="26" lengthAdjust="spacingAndGlyphs">6 keV</text>
<text transform="translate(376.3,369.5) rotate(-77)" fill="#2a2a9a" stroke="#2a2a9a" stroke-width="0.35" font-size="11" font-style="italic" textLength="31" lengthAdjust="spacingAndGlyphs">10 keV</text>
<text transform="translate(406.6,370.6) rotate(-77)" fill="#1a1a50" stroke="#1a1a50" stroke-width="0.35" font-size="11" font-style="italic" textLength="32" lengthAdjust="spacingAndGlyphs">15 keV</text>
</svg></body></html>
